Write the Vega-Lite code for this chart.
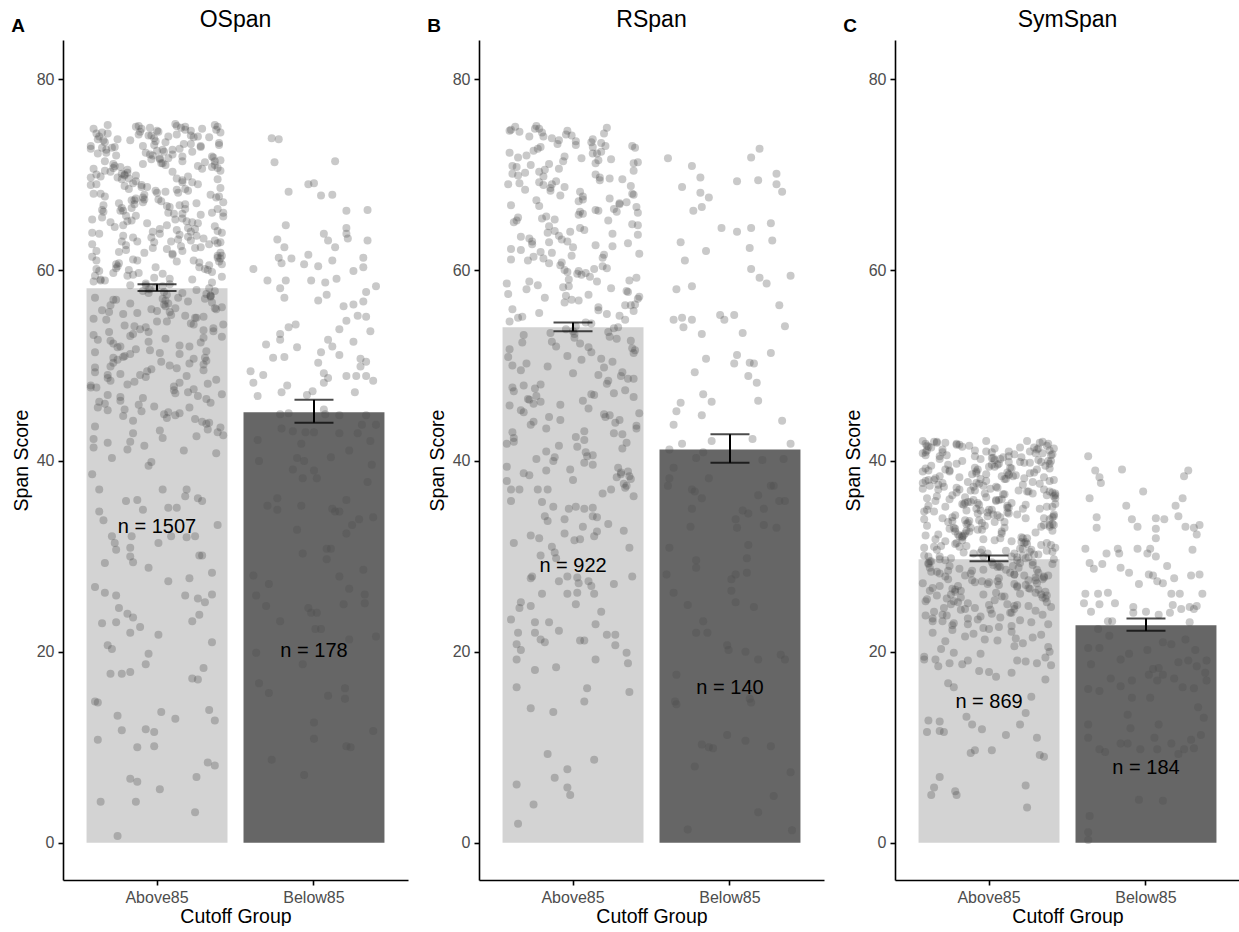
{
"$schema":"https://vega.github.io/schema/vega-lite/v6.json",
"background":"white",
"padding":{"left":11,"top":9,"right":0,"bottom":0},
"spacing":19,
"config":{
"font":"Liberation Sans",
"view":{"stroke":null},
"axis":{"grid":false,"domainColor":"#000000","domainWidth":1.6,"tickColor":"#000000","tickWidth":1.6,"tickSize":5,"labelColor":"#4d4d4d","labelFontSize":16,"labelPadding":4,"titleFontSize":19.5,"titleFontWeight":"normal","titleColor":"#000000"},
"axisX":{"labelAngle":0,"titlePadding":2,"labelFontSize":16,"titleFontSize":19.5},
"axisY":{"titlePadding":5,"labelFontSize":16,"titleFontSize":19.5},
"title":{"fontWeight":"normal","color":"#000000"}
},
"datasets":{
"bars":[
{"p":"OSpan","g":"Above85","mean":58.1,"lo":57.8,"hi":58.5,"label":"n = 1507"},
{"p":"OSpan","g":"Below85","mean":45.1,"lo":44.0,"hi":46.4,"label":"n = 178"},
{"p":"RSpan","g":"Above85","mean":54.0,"lo":53.6,"hi":54.5,"label":"n = 922"},
{"p":"RSpan","g":"Below85","mean":41.2,"lo":39.8,"hi":42.8,"label":"n = 140"},
{"p":"SymSpan","g":"Above85","mean":29.7,"lo":29.5,"hi":30.1,"label":"n = 869"},
{"p":"SymSpan","g":"Below85","mean":22.8,"lo":22.2,"hi":23.5,"label":"n = 184"}
],
"o_pts":[
{"g":"Above85","j":5,"y":74.8},{"g":"Above85","j":47,"y":62.3},{"g":"Above85","j":83,"y":55.1},{"g":"Above85","j":22,"y":69.7},{"g":"Above85","j":66,"y":48.2},{"g":"Above85","j":91,"y":71.4},{"g":"Above85","j":13,"y":58.9},{"g":"Above85","j":58,"y":66.0},{"g":"Above85","j":35,"y":51.7},{"g":"Above85","j":74,"y":73.2},
{"g":"Above85","j":8,"y":45.6},{"g":"Above85","j":52,"y":63.8},{"g":"Above85","j":29,"y":70.5},{"g":"Above85","j":88,"y":57.2},{"g":"Above85","j":41,"y":67.4},{"g":"Above85","j":17,"y":49.9},{"g":"Above85","j":70,"y":75.0},{"g":"Above85","j":96,"y":60.6},{"g":"Above85","j":33,"y":53.3},{"g":"Above85","j":61,"y":72.1},
{"g":"Above85","j":26,"y":64.7},{"g":"Above85","j":79,"y":46.8},{"g":"Above85","j":3,"y":68.9},{"g":"Above85","j":55,"y":56.4},{"g":"Above85","j":44,"y":74.1},{"g":"Above85","j":93,"y":61.5},{"g":"Above85","j":19,"y":50.8},{"g":"Above85","j":68,"y":69.2},{"g":"Above85","j":37,"y":59.7},{"g":"Above85","j":85,"y":43.9},
{"g":"Above85","j":11,"y":72.8},{"g":"Above85","j":63,"y":65.3},{"g":"Above85","j":50,"y":54.6},{"g":"Above85","j":27,"y":70.0},{"g":"Above85","j":76,"y":47.5},{"g":"Above85","j":95,"y":62.9},{"g":"Above85","j":15,"y":75.2},{"g":"Above85","j":40,"y":57.8},{"g":"Above85","j":59,"y":66.6},{"g":"Above85","j":81,"y":52.4},
{"g":"Above85","j":31,"y":73.6},{"g":"Above85","j":7,"y":60.1},{"g":"Above85","j":72,"y":68.3},{"g":"Above85","j":46,"y":55.9},{"g":"Above85","j":89,"y":71.9},{"g":"Above85","j":24,"y":49.1},{"g":"Above85","j":64,"y":64.2},{"g":"Above85","j":54,"y":58.3},{"g":"Above85","j":38,"y":74.5},{"g":"Above85","j":97,"y":42.7},
{"g":"Above85","j":97,"y":67.1},{"g":"Above85","j":38,"y":53.8},{"g":"Above85","j":54,"y":72.6},{"g":"Above85","j":64,"y":60.9},{"g":"Above85","j":24,"y":46.3},{"g":"Above85","j":89,"y":70.8},{"g":"Above85","j":46,"y":63.4},{"g":"Above85","j":72,"y":56.7},{"g":"Above85","j":7,"y":74.3},{"g":"Above85","j":31,"y":51.2},
{"g":"Above85","j":81,"y":65.8},{"g":"Above85","j":59,"y":59.1},{"g":"Above85","j":40,"y":71.1},{"g":"Above85","j":15,"y":48.7},{"g":"Above85","j":95,"y":61.8},{"g":"Above85","j":76,"y":73.9},{"g":"Above85","j":27,"y":54.2},{"g":"Above85","j":50,"y":68.1},{"g":"Above85","j":63,"y":44.8},{"g":"Above85","j":11,"y":66.3},
{"g":"Above85","j":85,"y":57.5},{"g":"Above85","j":37,"y":75.1},{"g":"Above85","j":68,"y":62.0},{"g":"Above85","j":19,"y":50.3},{"g":"Above85","j":93,"y":69.5},{"g":"Above85","j":44,"y":58.0},{"g":"Above85","j":55,"y":72.4},{"g":"Above85","j":3,"y":47.9},{"g":"Above85","j":79,"y":64.9},{"g":"Above85","j":26,"y":55.4},
{"g":"Above85","j":61,"y":70.3},{"g":"Above85","j":33,"y":61.1},{"g":"Above85","j":96,"y":53.0},{"g":"Above85","j":70,"y":74.7},{"g":"Above85","j":17,"y":65.0},{"g":"Above85","j":41,"y":41.6},{"g":"Above85","j":88,"y":67.9},{"g":"Above85","j":29,"y":59.4},{"g":"Above85","j":52,"y":71.6},{"g":"Above85","j":8,"y":52.7},
{"g":"Above85","j":74,"y":63.1},{"g":"Above85","j":35,"y":69.9},{"g":"Above85","j":58,"y":45.1},{"g":"Above85","j":13,"y":73.4},{"g":"Above85","j":91,"y":56.0},{"g":"Above85","j":66,"y":66.8},{"g":"Above85","j":22,"y":60.4},{"g":"Above85","j":83,"y":49.5},{"g":"Above85","j":47,"y":72.0},{"g":"Above85","j":5,"y":54.9},
{"g":"Above85","j":42,"y":58.6},{"g":"Above85","j":84,"y":71.3},{"g":"Above85","j":20,"y":64.5},{"g":"Above85","j":59,"y":50.0},{"g":"Above85","j":3,"y":73.0},{"g":"Above85","j":28,"y":62.6},{"g":"Above85","j":50,"y":55.7},{"g":"Above85","j":95,"y":68.6},{"g":"Above85","j":72,"y":47.2},{"g":"Above85","j":11,"y":65.5},
{"g":"Above85","j":45,"y":74.9},{"g":"Above85","j":89,"y":59.8},{"g":"Above85","j":66,"y":52.1},{"g":"Above85","j":25,"y":70.1},{"g":"Above85","j":78,"y":63.6},{"g":"Above85","j":54,"y":57.0},{"g":"Above85","j":7,"y":69.0},{"g":"Above85","j":33,"y":44.2},{"g":"Above85","j":70,"y":66.9},{"g":"Above85","j":93,"y":61.3},
{"g":"Above85","j":63,"y":75.3},{"g":"Above85","j":16,"y":53.5},{"g":"Above85","j":40,"y":67.6},{"g":"Above85","j":92,"y":48.5},{"g":"Above85","j":81,"y":72.9},{"g":"Above85","j":30,"y":60.0},{"g":"Above85","j":56,"y":56.2},{"g":"Above85","j":5,"y":70.6},{"g":"Above85","j":74,"y":64.0},{"g":"Above85","j":22,"y":51.9},
{"g":"Above85","j":48,"y":73.8},{"g":"Above85","j":57,"y":62.2},{"g":"Above85","j":87,"y":58.1},{"g":"Above85","j":64,"y":68.4},{"g":"Above85","j":13,"y":46.0},{"g":"Above85","j":32,"y":65.2},{"g":"Above85","j":52,"y":71.7},{"g":"Above85","j":77,"y":55.0},{"g":"Above85","j":96,"y":63.9},{"g":"Above85","j":18,"y":40.3},
{"g":"Above85","j":68,"y":69.4},{"g":"Above85","j":44,"y":57.6},{"g":"Above85","j":9,"y":74.0},{"g":"Above85","j":83,"y":52.9},{"g":"Above85","j":26,"y":66.2},{"g":"Above85","j":61,"y":61.7},{"g":"Above85","j":6,"y":49.3},{"g":"Above85","j":91,"y":71.0},{"g":"Above85","j":75,"y":59.0},{"g":"Above85","j":34,"y":67.3},
{"g":"Above85","j":66,"y":45.0},{"g":"Above85","j":8,"y":72.2},{"g":"Above85","j":44,"y":39.5},{"g":"Above85","j":83,"y":63.3},{"g":"Above85","j":27,"y":68.8},{"g":"Above85","j":52,"y":43.2},{"g":"Above85","j":74,"y":74.6},{"g":"Above85","j":19,"y":56.9},{"g":"Above85","j":96,"y":47.0},{"g":"Above85","j":35,"y":65.7},
{"g":"Above85","j":69,"y":41.1},{"g":"Above85","j":13,"y":70.4},{"g":"Above85","j":90,"y":53.6},{"g":"Above85","j":49,"y":60.3},{"g":"Above85","j":4,"y":38.6},{"g":"Above85","j":78,"y":67.0},{"g":"Above85","j":31,"y":58.4},{"g":"Above85","j":57,"y":44.5},{"g":"Above85","j":94,"y":73.3},{"g":"Above85","j":22,"y":50.6},
{"g":"Above85","j":87,"y":62.7},{"g":"Above85","j":40,"y":46.6},{"g":"Above85","j":64,"y":69.6},{"g":"Above85","j":16,"y":55.6},{"g":"Above85","j":5,"y":42.3},{"g":"Above85","j":54,"y":71.2},{"g":"Above85","j":80,"y":60.8},{"g":"Above85","j":29,"y":48.0},{"g":"Above85","j":93,"y":66.4},{"g":"Above85","j":46,"y":39.9},
{"g":"Above85","j":72,"y":64.4},{"g":"Above85","j":24,"y":52.0},{"g":"Above85","j":11,"y":74.4},{"g":"Above85","j":88,"y":57.3},{"g":"Above85","j":37,"y":45.9},{"g":"Above85","j":56,"y":68.2},{"g":"Above85","j":76,"y":61.0},{"g":"Above85","j":6,"y":43.6},{"g":"Above85","j":20,"y":70.9},{"g":"Above85","j":42,"y":54.0},
{"g":"Above85","j":92,"y":40.8},{"g":"Above85","j":68,"y":65.9},{"g":"Above85","j":33,"y":59.5},{"g":"Above85","j":7,"y":47.7},{"g":"Above85","j":50,"y":72.5},{"g":"Above85","j":85,"y":51.5},{"g":"Above85","j":25,"y":63.0},{"g":"Above85","j":15,"y":41.9},{"g":"Above85","j":94,"y":67.7},{"g":"Above85","j":58,"y":56.5},
{"g":"Above85","j":7,"y":61.0},{"g":"Above85","j":49,"y":73.5},{"g":"Above85","j":85,"y":50.5},{"g":"Above85","j":24,"y":66.2},{"g":"Above85","j":68,"y":57.6},{"g":"Above85","j":93,"y":70.7},{"g":"Above85","j":15,"y":45.3},{"g":"Above85","j":60,"y":63.0},{"g":"Above85","j":37,"y":74.2},{"g":"Above85","j":76,"y":54.3},
{"g":"Above85","j":10,"y":68.0},{"g":"Above85","j":54,"y":59.6},{"g":"Above85","j":31,"y":42.0},{"g":"Above85","j":90,"y":71.8},{"g":"Above85","j":43,"y":64.9},{"g":"Above85","j":19,"y":52.3},{"g":"Above85","j":72,"y":69.8},{"g":"Above85","j":96,"y":56.1},{"g":"Above85","j":35,"y":75.0},{"g":"Above85","j":63,"y":47.1},
{"g":"Above85","j":28,"y":62.1},{"g":"Above85","j":81,"y":73.0},{"g":"Above85","j":5,"y":58.8},{"g":"Above85","j":57,"y":66.7},{"g":"Above85","j":46,"y":49.6},{"g":"Above85","j":95,"y":71.5},{"g":"Above85","j":21,"y":60.2},{"g":"Above85","j":70,"y":55.2},{"g":"Above85","j":39,"y":74.8},{"g":"Above85","j":87,"y":44.0},
{"g":"Above85","j":13,"y":67.7},{"g":"Above85","j":65,"y":63.2},{"g":"Above85","j":52,"y":51.3},{"g":"Above85","j":29,"y":70.2},{"g":"Above85","j":78,"y":57.9},{"g":"Above85","j":97,"y":65.6},{"g":"Above85","j":17,"y":48.4},{"g":"Above85","j":42,"y":72.3},{"g":"Above85","j":61,"y":61.6},{"g":"Above85","j":83,"y":53.7},
{"g":"Above85","j":33,"y":69.1},{"g":"Above85","j":9,"y":46.2},{"g":"Above85","j":74,"y":74.1},{"g":"Above85","j":48,"y":59.2},{"g":"Above85","j":91,"y":64.6},{"g":"Above85","j":26,"y":50.9},{"g":"Above85","j":66,"y":72.7},{"g":"Above85","j":56,"y":56.8},{"g":"Above85","j":40,"y":67.1},{"g":"Above85","j":95,"y":43.5},
{"g":"Above85","j":95,"y":70.4},{"g":"Above85","j":36,"y":55.5},{"g":"Above85","j":52,"y":64.3},{"g":"Above85","j":62,"y":47.8},{"g":"Above85","j":22,"y":73.7},{"g":"Above85","j":87,"y":60.5},{"g":"Above85","j":44,"y":52.5},{"g":"Above85","j":70,"y":68.5},{"g":"Above85","j":5,"y":41.4},{"g":"Above85","j":29,"y":65.1},
{"g":"Above85","j":79,"y":74.0},{"g":"Above85","j":57,"y":57.4},{"g":"Above85","j":38,"y":49.0},{"g":"Above85","j":13,"y":71.4},{"g":"Above85","j":93,"y":62.8},{"g":"Above85","j":74,"y":54.4},{"g":"Above85","j":25,"y":66.5},{"g":"Above85","j":48,"y":45.7},{"g":"Above85","j":61,"y":72.6},{"g":"Above85","j":9,"y":59.9},
{"g":"Above85","j":83,"y":50.1},{"g":"Above85","j":35,"y":69.3},{"g":"Above85","j":66,"y":63.7},{"g":"Above85","j":17,"y":56.3},{"g":"Above85","j":91,"y":75.2},{"g":"Above85","j":42,"y":48.8},{"g":"Above85","j":53,"y":67.2},{"g":"Above85","j":4,"y":61.4},{"g":"Above85","j":77,"y":44.4},{"g":"Above85","j":24,"y":70.8},
{"g":"Above85","j":59,"y":58.5},{"g":"Above85","j":31,"y":53.1},{"g":"Above85","j":94,"y":73.1},{"g":"Above85","j":68,"y":65.4},{"g":"Above85","j":15,"y":46.9},{"g":"Above85","j":39,"y":68.7},{"g":"Above85","j":86,"y":60.0},{"g":"Above85","j":27,"y":51.0},{"g":"Above85","j":50,"y":74.6},{"g":"Above85","j":6,"y":57.1},
{"g":"Above85","j":72,"y":63.5},{"g":"Above85","j":33,"y":42.9},{"g":"Above85","j":56,"y":71.0},{"g":"Above85","j":11,"y":55.8},{"g":"Above85","j":89,"y":66.0},{"g":"Above85","j":64,"y":49.7},{"g":"Above85","j":20,"y":72.9},{"g":"Above85","j":81,"y":62.4},{"g":"Above85","j":45,"y":58.0},{"g":"Above85","j":3,"y":69.7},
{"g":"Above85","j":43,"y":68.7},{"g":"Above85","j":85,"y":46.5},{"g":"Above85","j":21,"y":72.0},{"g":"Above85","j":60,"y":55.3},{"g":"Above85","j":4,"y":63.9},{"g":"Above85","j":29,"y":41.2},{"g":"Above85","j":51,"y":74.5},{"g":"Above85","j":96,"y":59.3},{"g":"Above85","j":73,"y":50.2},{"g":"Above85","j":12,"y":66.8},
{"g":"Above85","j":46,"y":71.6},{"g":"Above85","j":90,"y":53.9},{"g":"Above85","j":67,"y":62.5},{"g":"Above85","j":26,"y":44.7},{"g":"Above85","j":79,"y":69.0},{"g":"Above85","j":55,"y":57.7},{"g":"Above85","j":8,"y":73.7},{"g":"Above85","j":34,"y":48.3},{"g":"Above85","j":71,"y":65.1},{"g":"Above85","j":94,"y":60.9},
{"g":"Above85","j":64,"y":75.1},{"g":"Above85","j":17,"y":52.6},{"g":"Above85","j":41,"y":67.9},{"g":"Above85","j":93,"y":43.0},{"g":"Above85","j":82,"y":70.6},{"g":"Above85","j":31,"y":56.5},{"g":"Above85","j":57,"y":64.7},{"g":"Above85","j":6,"y":49.8},{"g":"Above85","j":75,"y":72.4},{"g":"Above85","j":23,"y":61.9},
{"g":"Above85","j":49,"y":58.2},{"g":"Above85","j":58,"y":74.0},{"g":"Above85","j":88,"y":46.1},{"g":"Above85","j":65,"y":68.1},{"g":"Above85","j":14,"y":54.8},{"g":"Above85","j":33,"y":63.4},{"g":"Above85","j":53,"y":71.2},{"g":"Above85","j":78,"y":42.6},{"g":"Above85","j":97,"y":66.0},{"g":"Above85","j":19,"y":59.7},
{"g":"Above85","j":69,"y":73.2},{"g":"Above85","j":45,"y":51.6},{"g":"Above85","j":10,"y":69.8},{"g":"Above85","j":84,"y":57.0},{"g":"Above85","j":27,"y":45.4},{"g":"Above85","j":62,"y":65.9},{"g":"Above85","j":7,"y":62.0},{"g":"Above85","j":92,"y":74.7},{"g":"Above85","j":76,"y":50.7},{"g":"Above85","j":35,"y":67.5},
{"g":"Above85","j":65,"y":57.1},{"g":"Above85","j":7,"y":70.0},{"g":"Above85","j":43,"y":49.4},{"g":"Above85","j":82,"y":74.8},{"g":"Above85","j":26,"y":63.6},{"g":"Above85","j":51,"y":67.4},{"g":"Above85","j":73,"y":45.6},{"g":"Above85","j":18,"y":72.8},{"g":"Above85","j":95,"y":61.2},{"g":"Above85","j":34,"y":54.1},
{"g":"Above85","j":68,"y":71.9},{"g":"Above85","j":12,"y":66.1},{"g":"Above85","j":89,"y":58.7},{"g":"Above85","j":48,"y":73.1},{"g":"Above85","j":3,"y":47.7},{"g":"Above85","j":77,"y":64.3},{"g":"Above85","j":30,"y":69.6},{"g":"Above85","j":56,"y":52.8},{"g":"Above85","j":93,"y":75.0},{"g":"Above85","j":21,"y":60.6},
{"g":"Above85","j":86,"y":43.3},{"g":"Above85","j":39,"y":68.9},{"g":"Above85","j":63,"y":56.0},{"g":"Above85","j":15,"y":74.3},{"g":"Above85","j":4,"y":62.7},{"g":"Above85","j":53,"y":50.4},{"g":"Above85","j":79,"y":70.9},{"g":"Above85","j":28,"y":65.7},{"g":"Above85","j":92,"y":55.9},{"g":"Above85","j":45,"y":72.1},
{"g":"Above85","j":71,"y":48.9},{"g":"Above85","j":23,"y":67.0},{"g":"Above85","j":10,"y":59.0},{"g":"Above85","j":87,"y":73.9},{"g":"Above85","j":36,"y":63.0},{"g":"Above85","j":55,"y":44.9},{"g":"Above85","j":75,"y":69.2},{"g":"Above85","j":5,"y":53.2},{"g":"Above85","j":19,"y":71.1},{"g":"Above85","j":41,"y":61.8},
{"g":"Above85","j":91,"y":57.8},{"g":"Above85","j":67,"y":74.9},{"g":"Above85","j":32,"y":66.5},{"g":"Above85","j":6,"y":51.4},{"g":"Above85","j":49,"y":68.3},{"g":"Above85","j":84,"y":60.1},{"g":"Above85","j":24,"y":46.7},{"g":"Above85","j":14,"y":72.6},{"g":"Above85","j":93,"y":64.1},{"g":"Above85","j":57,"y":54.6},
{"g":"Above85","j":56,"y":73.4},{"g":"Above85","j":96,"y":61.5},{"g":"Above85","j":34,"y":66.9},{"g":"Above85","j":73,"y":52.0},{"g":"Above85","j":17,"y":70.3},{"g":"Above85","j":42,"y":58.4},{"g":"Above85","j":64,"y":74.2},{"g":"Above85","j":9,"y":63.8},{"g":"Above85","j":86,"y":48.1},{"g":"Above85","j":25,"y":69.5},
{"g":"Above85","j":59,"y":55.6},{"g":"Above85","j":3,"y":72.7},{"g":"Above85","j":80,"y":60.3},{"g":"Above85","j":39,"y":45.2},{"g":"Above85","j":92,"y":67.6},{"g":"Above85","j":68,"y":71.4},{"g":"Above85","j":21,"y":56.9},{"g":"Above85","j":47,"y":64.0},{"g":"Above85","j":84,"y":50.8},{"g":"Above85","j":12,"y":73.6},
{"g":"Above85","j":77,"y":62.3},{"g":"Above85","j":30,"y":68.5},{"g":"Above85","j":54,"y":42.4},{"g":"Above85","j":6,"y":59.4},{"g":"Above85","j":95,"y":74.4},{"g":"Above85","j":44,"y":53.5},{"g":"Above85","j":70,"y":66.4},{"g":"Above85","j":19,"y":70.7},{"g":"Above85","j":88,"y":57.3},{"g":"Above85","j":36,"y":61.0},
{"g":"Above85","j":62,"y":47.4},{"g":"Above85","j":14,"y":72.3},{"g":"Above85","j":4,"y":65.3},{"g":"Above85","j":78,"y":55.0},{"g":"Above85","j":27,"y":69.9},{"g":"Above85","j":46,"y":74.1},{"g":"Above85","j":66,"y":51.2},{"g":"Above85","j":91,"y":63.1},{"g":"Above85","j":10,"y":58.9},{"g":"Above85","j":32,"y":67.3},
{"g":"Above85","j":82,"y":44.1},{"g":"Above85","j":58,"y":71.7},{"g":"Above85","j":23,"y":60.7},{"g":"Above85","j":97,"y":54.3},{"g":"Above85","j":40,"y":73.0},{"g":"Above85","j":75,"y":65.0},{"g":"Above85","j":15,"y":49.0},{"g":"Above85","j":5,"y":68.0},{"g":"Above85","j":89,"y":56.6},{"g":"Above85","j":48,"y":62.9},
{"g":"Above85","j":6,"y":26.8},{"g":"Above85","j":13,"y":26.2},{"g":"Above85","j":21,"y":25.9},{"g":"Above85","j":23,"y":24.6},{"g":"Above85","j":29,"y":24.0},{"g":"Above85","j":33,"y":23.6},{"g":"Above85","j":11,"y":23.0},{"g":"Above85","j":21,"y":23.1},{"g":"Above85","j":38,"y":22.6},{"g":"Above85","j":31,"y":22.0},
{"g":"Above85","j":51,"y":21.8},{"g":"Above85","j":13,"y":29.3},{"g":"Above85","j":44,"y":28.8},{"g":"Above85","j":58,"y":27.4},{"g":"Above85","j":73,"y":27.7},{"g":"Above85","j":89,"y":28.3},{"g":"Above85","j":70,"y":25.9},{"g":"Above85","j":79,"y":25.6},{"g":"Above85","j":84,"y":25.2},{"g":"Above85","j":89,"y":26.0},
{"g":"Above85","j":80,"y":23.9},{"g":"Above85","j":75,"y":23.2},{"g":"Above85","j":89,"y":21.0},{"g":"Above85","j":15,"y":20.7},{"g":"Above85","j":18,"y":20.3},{"g":"Above85","j":44,"y":19.8},{"g":"Above85","j":42,"y":18.7},{"g":"Above85","j":17,"y":17.7},{"g":"Above85","j":25,"y":17.7},{"g":"Above85","j":31,"y":17.9},
{"g":"Above85","j":75,"y":17.2},{"g":"Above85","j":79,"y":17.1},{"g":"Above85","j":83,"y":18.3},{"g":"Above85","j":6,"y":14.8},{"g":"Above85","j":8,"y":14.7},{"g":"Above85","j":22,"y":13.3},{"g":"Above85","j":53,"y":13.7},{"g":"Above85","j":63,"y":13.0},{"g":"Above85","j":87,"y":13.9},{"g":"Above85","j":91,"y":12.8},
{"g":"Above85","j":25,"y":11.8},{"g":"Above85","j":42,"y":11.9},{"g":"Above85","j":48,"y":11.6},{"g":"Above85","j":8,"y":10.8},{"g":"Above85","j":36,"y":10.0},{"g":"Above85","j":48,"y":10.1},{"g":"Above85","j":86,"y":8.4},{"g":"Above85","j":91,"y":8.1},{"g":"Above85","j":78,"y":6.9},{"g":"Above85","j":31,"y":6.7},
{"g":"Above85","j":36,"y":6.4},{"g":"Above85","j":52,"y":5.6},{"g":"Above85","j":10,"y":4.3},{"g":"Above85","j":35,"y":4.3},{"g":"Above85","j":77,"y":3.2},{"g":"Above85","j":22,"y":0.7},
{"g":"Above85","j":9,"y":37.0},{"g":"Above85","j":9,"y":34.7},{"g":"Above85","j":12,"y":33.8},{"g":"Above85","j":18,"y":32.1},{"g":"Above85","j":20,"y":31.4},{"g":"Above85","j":21,"y":30.7},{"g":"Above85","j":31,"y":30.9},{"g":"Above85","j":31,"y":30.0},{"g":"Above85","j":33,"y":29.4},{"g":"Above85","j":32,"y":32.1},
{"g":"Above85","j":51,"y":31.4},{"g":"Above85","j":80,"y":30.1},{"g":"Above85","j":82,"y":30.1},{"g":"Above85","j":93,"y":33.3},{"g":"Above85","j":77,"y":32.1},{"g":"Above85","j":28,"y":35.8},{"g":"Above85","j":36,"y":35.9},{"g":"Above85","j":40,"y":34.9},{"g":"Above85","j":54,"y":37.0},{"g":"Above85","j":58,"y":35.1},
{"g":"Above85","j":64,"y":35.1},{"g":"Above85","j":71,"y":37.0},{"g":"Above85","j":70,"y":36.3},{"g":"Above85","j":79,"y":36.1},{"g":"Above85","j":82,"y":35.8},{"g":"Above85","j":71,"y":32.0},{"g":"Above85","j":60,"y":32.1},
{"g":"Below85","j":20,"y":73.8},{"g":"Below85","j":25,"y":73.7},{"g":"Below85","j":22,"y":71.3},{"g":"Below85","j":65,"y":71.4},{"g":"Below85","j":46,"y":69.0},{"g":"Below85","j":50,"y":69.1},{"g":"Below85","j":32,"y":68.2},{"g":"Below85","j":55,"y":67.8},{"g":"Below85","j":63,"y":67.9},{"g":"Below85","j":73,"y":66.2},
{"g":"Below85","j":88,"y":66.3},{"g":"Below85","j":30,"y":64.7},{"g":"Below85","j":73,"y":64.4},{"g":"Below85","j":73,"y":63.8},{"g":"Below85","j":57,"y":63.8},{"g":"Below85","j":24,"y":63.2},{"g":"Below85","j":60,"y":63.1},{"g":"Below85","j":74,"y":63.3},{"g":"Below85","j":88,"y":63.1},{"g":"Below85","j":29,"y":62.4},
{"g":"Below85","j":65,"y":62.4},{"g":"Below85","j":46,"y":61.6},{"g":"Below85","j":25,"y":61.3},{"g":"Below85","j":34,"y":61.2},{"g":"Below85","j":63,"y":61.0},{"g":"Below85","j":85,"y":61.3},{"g":"Below85","j":27,"y":60.7},{"g":"Below85","j":43,"y":60.6},{"g":"Below85","j":53,"y":60.4},{"g":"Below85","j":85,"y":60.3},
{"g":"Below85","j":7,"y":60.1},{"g":"Below85","j":78,"y":59.9},{"g":"Below85","j":17,"y":58.9},{"g":"Below85","j":30,"y":58.9},{"g":"Below85","j":48,"y":58.9},{"g":"Below85","j":58,"y":58.7},{"g":"Below85","j":66,"y":59.1},{"g":"Below85","j":26,"y":58.1},{"g":"Below85","j":94,"y":58.3},{"g":"Below85","j":29,"y":57.1},
{"g":"Below85","j":53,"y":56.8},{"g":"Below85","j":59,"y":57.4},{"g":"Below85","j":87,"y":57.7},{"g":"Below85","j":71,"y":56.2},{"g":"Below85","j":78,"y":56.4},{"g":"Below85","j":85,"y":56.7},{"g":"Below85","j":81,"y":55.2},{"g":"Below85","j":87,"y":55.1},{"g":"Below85","j":73,"y":54.7},{"g":"Below85","j":32,"y":54.0},
{"g":"Below85","j":37,"y":54.3},{"g":"Below85","j":68,"y":53.8},{"g":"Below85","j":90,"y":53.6},{"g":"Below85","j":26,"y":53.3},{"g":"Below85","j":26,"y":52.7},{"g":"Below85","j":60,"y":52.7},{"g":"Below85","j":78,"y":52.5},{"g":"Below85","j":16,"y":52.2},{"g":"Below85","j":38,"y":51.9},{"g":"Below85","j":63,"y":52.0},
{"g":"Below85","j":55,"y":51.4},{"g":"Below85","j":68,"y":51.1},{"g":"Below85","j":21,"y":50.8},{"g":"Below85","j":29,"y":50.9},{"g":"Below85","j":53,"y":50.3},{"g":"Below85","j":83,"y":50.7},{"g":"Below85","j":87,"y":50.4},{"g":"Below85","j":83,"y":49.9},{"g":"Below85","j":5,"y":49.4},{"g":"Below85","j":14,"y":49.0},
{"g":"Below85","j":57,"y":49.2},{"g":"Below85","j":60,"y":48.7},{"g":"Below85","j":73,"y":48.9},{"g":"Below85","j":80,"y":48.9},{"g":"Below85","j":87,"y":48.9},{"g":"Below85","j":92,"y":48.4},{"g":"Below85","j":7,"y":48.2},{"g":"Below85","j":31,"y":47.9},{"g":"Below85","j":57,"y":48.2},{"g":"Below85","j":27,"y":47.2},
{"g":"Below85","j":45,"y":46.9},{"g":"Below85","j":49,"y":47.3},{"g":"Below85","j":79,"y":47.2},{"g":"Below85","j":10,"y":46.8},{"g":"Below85","j":57,"y":45.4},{"g":"Below85","j":26,"y":44.9},{"g":"Below85","j":32,"y":45.0},{"g":"Below85","j":58,"y":44.9},{"g":"Below85","j":68,"y":44.8},{"g":"Below85","j":87,"y":44.8},
{"g":"Below85","j":27,"y":43.4},{"g":"Below85","j":35,"y":43.1},{"g":"Below85","j":44,"y":43.0},{"g":"Below85","j":50,"y":43.0},{"g":"Below85","j":68,"y":42.9},{"g":"Below85","j":81,"y":42.9},{"g":"Below85","j":94,"y":43.8},{"g":"Below85","j":84,"y":43.8},{"g":"Below85","j":10,"y":42.2},{"g":"Below85","j":41,"y":41.8},
{"g":"Below85","j":90,"y":42.1},{"g":"Below85","j":11,"y":40.0},{"g":"Below85","j":38,"y":40.3},{"g":"Below85","j":43,"y":40.0},{"g":"Below85","j":62,"y":40.4},{"g":"Below85","j":75,"y":41.1},{"g":"Below85","j":91,"y":39.6},{"g":"Below85","j":35,"y":39.1},{"g":"Below85","j":42,"y":38.2},{"g":"Below85","j":50,"y":39.0},
{"g":"Below85","j":52,"y":38.2},{"g":"Below85","j":88,"y":37.8},{"g":"Below85","j":17,"y":35.3},{"g":"Below85","j":24,"y":36.1},{"g":"Below85","j":24,"y":34.9},{"g":"Below85","j":41,"y":35.3},{"g":"Below85","j":63,"y":35.0},{"g":"Below85","j":65,"y":34.7},{"g":"Below85","j":68,"y":34.7},{"g":"Below85","j":73,"y":35.9},
{"g":"Below85","j":82,"y":33.9},{"g":"Below85","j":92,"y":34.1},{"g":"Below85","j":77,"y":33.3},{"g":"Below85","j":73,"y":32.4},{"g":"Below85","j":38,"y":32.8},{"g":"Below85","j":59,"y":30.8},{"g":"Below85","j":62,"y":30.8},{"g":"Below85","j":42,"y":30.3},{"g":"Below85","j":59,"y":29.7},{"g":"Below85","j":85,"y":28.6},
{"g":"Below85","j":7,"y":28.0},{"g":"Below85","j":18,"y":27.1},{"g":"Below85","j":68,"y":27.9},{"g":"Below85","j":75,"y":26.6},{"g":"Below85","j":9,"y":25.9},{"g":"Below85","j":86,"y":26.0},{"g":"Below85","j":86,"y":25.1},{"g":"Below85","j":16,"y":24.8},{"g":"Below85","j":46,"y":24.6},{"g":"Below85","j":48,"y":24.1},
{"g":"Below85","j":52,"y":24.1},{"g":"Below85","j":71,"y":25.0},{"g":"Below85","j":26,"y":23.2},{"g":"Below85","j":51,"y":22.4},{"g":"Below85","j":55,"y":22.4},{"g":"Below85","j":94,"y":21.6},{"g":"Below85","j":75,"y":21.3},{"g":"Below85","j":9,"y":19.9},{"g":"Below85","j":42,"y":18.7},{"g":"Below85","j":11,"y":16.7},
{"g":"Below85","j":18,"y":15.7},{"g":"Below85","j":60,"y":15.4},{"g":"Below85","j":72,"y":15.1},{"g":"Below85","j":72,"y":16.2},{"g":"Below85","j":50,"y":12.6},{"g":"Below85","j":92,"y":11.7},{"g":"Below85","j":50,"y":10.9},{"g":"Below85","j":73,"y":10.1},{"g":"Below85","j":76,"y":10.0},{"g":"Below85","j":20,"y":8.7},
{"g":"Below85","j":43,"y":7.1}
],
"r_pts":[
{"g":"Above85","j":5,"y":74.6},{"g":"Above85","j":47,"y":58.3},{"g":"Above85","j":83,"y":66.9},{"g":"Above85","j":22,"y":44.1},{"g":"Above85","j":66,"y":71.2},{"g":"Above85","j":91,"y":52.6},{"g":"Above85","j":13,"y":63.5},{"g":"Above85","j":58,"y":39.8},{"g":"Above85","j":35,"y":69.0},{"g":"Above85","j":74,"y":55.4},
{"g":"Above85","j":8,"y":47.3},{"g":"Above85","j":52,"y":73.1},{"g":"Above85","j":29,"y":61.2},{"g":"Above85","j":88,"y":41.9},{"g":"Above85","j":41,"y":67.8},{"g":"Above85","j":17,"y":50.2},{"g":"Above85","j":70,"y":72.4},{"g":"Above85","j":96,"y":57.0},{"g":"Above85","j":33,"y":64.6},{"g":"Above85","j":61,"y":45.5},
{"g":"Above85","j":26,"y":70.3},{"g":"Above85","j":79,"y":53.9},{"g":"Above85","j":3,"y":37.9},{"g":"Above85","j":55,"y":68.2},{"g":"Above85","j":44,"y":60.0},{"g":"Above85","j":93,"y":48.6},{"g":"Above85","j":19,"y":74.0},{"g":"Above85","j":68,"y":56.1},{"g":"Above85","j":37,"y":65.3},{"g":"Above85","j":85,"y":42.8},
{"g":"Above85","j":11,"y":71.8},{"g":"Above85","j":63,"y":51.4},{"g":"Above85","j":50,"y":62.4},{"g":"Above85","j":27,"y":46.2},{"g":"Above85","j":76,"y":69.6},{"g":"Above85","j":95,"y":59.2},{"g":"Above85","j":15,"y":38.7},{"g":"Above85","j":40,"y":73.6},{"g":"Above85","j":59,"y":54.5},{"g":"Above85","j":81,"y":66.1},
{"g":"Above85","j":31,"y":43.4},{"g":"Above85","j":7,"y":70.9},{"g":"Above85","j":72,"y":49.8},{"g":"Above85","j":46,"y":63.0},{"g":"Above85","j":89,"y":57.7},{"g":"Above85","j":24,"y":75.1},{"g":"Above85","j":64,"y":40.6},{"g":"Above85","j":54,"y":67.2},{"g":"Above85","j":38,"y":52.0},{"g":"Above85","j":97,"y":61.7},
{"g":"Above85","j":97,"y":45.0},{"g":"Above85","j":38,"y":69.3},{"g":"Above85","j":54,"y":56.8},{"g":"Above85","j":64,"y":72.9},{"g":"Above85","j":24,"y":40.2},{"g":"Above85","j":89,"y":62.8},{"g":"Above85","j":46,"y":51.0},{"g":"Above85","j":72,"y":74.3},{"g":"Above85","j":7,"y":47.7},{"g":"Above85","j":31,"y":65.6},
{"g":"Above85","j":81,"y":38.3},{"g":"Above85","j":59,"y":59.7},{"g":"Above85","j":40,"y":70.6},{"g":"Above85","j":15,"y":53.2},{"g":"Above85","j":95,"y":43.7},{"g":"Above85","j":76,"y":67.5},{"g":"Above85","j":27,"y":61.9},{"g":"Above85","j":50,"y":49.2},{"g":"Above85","j":63,"y":73.4},{"g":"Above85","j":11,"y":55.0},
{"g":"Above85","j":85,"y":41.3},{"g":"Above85","j":37,"y":64.1},{"g":"Above85","j":68,"y":71.5},{"g":"Above85","j":19,"y":58.8},{"g":"Above85","j":93,"y":46.7},{"g":"Above85","j":44,"y":68.7},{"g":"Above85","j":55,"y":52.3},{"g":"Above85","j":3,"y":39.4},{"g":"Above85","j":79,"y":66.4},{"g":"Above85","j":26,"y":74.8},
{"g":"Above85","j":61,"y":57.4},{"g":"Above85","j":33,"y":44.6},{"g":"Above85","j":96,"y":63.7},{"g":"Above85","j":70,"y":50.7},{"g":"Above85","j":17,"y":72.0},{"g":"Above85","j":41,"y":60.5},{"g":"Above85","j":88,"y":37.4},{"g":"Above85","j":29,"y":69.8},{"g":"Above85","j":52,"y":54.1},{"g":"Above85","j":8,"y":65.0},
{"g":"Above85","j":74,"y":48.1},{"g":"Above85","j":35,"y":73.8},{"g":"Above85","j":58,"y":42.2},{"g":"Above85","j":13,"y":62.1},{"g":"Above85","j":91,"y":56.3},{"g":"Above85","j":66,"y":70.0},{"g":"Above85","j":22,"y":46.0},{"g":"Above85","j":83,"y":67.0},{"g":"Above85","j":47,"y":59.0},{"g":"Above85","j":5,"y":51.7},
{"g":"Above85","j":42,"y":63.2},{"g":"Above85","j":84,"y":48.9},{"g":"Above85","j":20,"y":71.0},{"g":"Above85","j":59,"y":40.9},{"g":"Above85","j":3,"y":58.6},{"g":"Above85","j":28,"y":74.4},{"g":"Above85","j":50,"y":53.6},{"g":"Above85","j":95,"y":66.6},{"g":"Above85","j":72,"y":44.9},{"g":"Above85","j":11,"y":69.9},
{"g":"Above85","j":45,"y":57.3},{"g":"Above85","j":89,"y":38.9},{"g":"Above85","j":66,"y":62.6},{"g":"Above85","j":25,"y":72.7},{"g":"Above85","j":78,"y":50.4},{"g":"Above85","j":54,"y":65.8},{"g":"Above85","j":7,"y":43.0},{"g":"Above85","j":33,"y":60.7},{"g":"Above85","j":70,"y":73.3},{"g":"Above85","j":93,"y":55.7},
{"g":"Above85","j":63,"y":47.0},{"g":"Above85","j":16,"y":68.4},{"g":"Above85","j":40,"y":41.6},{"g":"Above85","j":92,"y":64.8},{"g":"Above85","j":81,"y":52.8},{"g":"Above85","j":30,"y":70.5},{"g":"Above85","j":56,"y":59.5},{"g":"Above85","j":5,"y":45.8},{"g":"Above85","j":74,"y":74.9},{"g":"Above85","j":22,"y":61.4},
{"g":"Above85","j":48,"y":39.1},{"g":"Above85","j":57,"y":67.4},{"g":"Above85","j":87,"y":54.8},{"g":"Above85","j":64,"y":72.2},{"g":"Above85","j":13,"y":49.5},{"g":"Above85","j":32,"y":63.9},{"g":"Above85","j":52,"y":42.5},{"g":"Above85","j":77,"y":58.1},{"g":"Above85","j":96,"y":71.3},{"g":"Above85","j":18,"y":46.5},
{"g":"Above85","j":68,"y":66.2},{"g":"Above85","j":44,"y":56.6},{"g":"Above85","j":9,"y":75.0},{"g":"Above85","j":83,"y":44.3},{"g":"Above85","j":26,"y":69.2},{"g":"Above85","j":61,"y":51.9},{"g":"Above85","j":6,"y":61.1},{"g":"Above85","j":91,"y":38.1},{"g":"Above85","j":75,"y":65.2},{"g":"Above85","j":34,"y":53.4},
{"g":"Above85","j":66,"y":66.3},{"g":"Above85","j":8,"y":42.4},{"g":"Above85","j":44,"y":71.9},{"g":"Above85","j":83,"y":55.2},{"g":"Above85","j":27,"y":48.0},{"g":"Above85","j":52,"y":73.5},{"g":"Above85","j":74,"y":60.2},{"g":"Above85","j":19,"y":38.5},{"g":"Above85","j":96,"y":64.7},{"g":"Above85","j":35,"y":52.5},
{"g":"Above85","j":69,"y":69.4},{"g":"Above85","j":13,"y":45.3},{"g":"Above85","j":90,"y":58.9},{"g":"Above85","j":49,"y":74.1},{"g":"Above85","j":4,"y":50.9},{"g":"Above85","j":78,"y":62.5},{"g":"Above85","j":31,"y":41.0},{"g":"Above85","j":57,"y":67.7},{"g":"Above85","j":94,"y":56.4},{"g":"Above85","j":22,"y":72.5},
{"g":"Above85","j":87,"y":47.4},{"g":"Above85","j":40,"y":63.6},{"g":"Above85","j":64,"y":39.6},{"g":"Above85","j":16,"y":70.2},{"g":"Above85","j":5,"y":54.6},{"g":"Above85","j":54,"y":59.9},{"g":"Above85","j":80,"y":44.0},{"g":"Above85","j":29,"y":68.9},{"g":"Above85","j":93,"y":51.3},{"g":"Above85","j":46,"y":74.6},
{"g":"Above85","j":72,"y":61.6},{"g":"Above85","j":24,"y":46.8},{"g":"Above85","j":11,"y":65.5},{"g":"Above85","j":88,"y":57.8},{"g":"Above85","j":37,"y":40.4},{"g":"Above85","j":56,"y":71.7},{"g":"Above85","j":76,"y":53.0},{"g":"Above85","j":6,"y":66.8},{"g":"Above85","j":20,"y":43.8},{"g":"Above85","j":42,"y":60.8},
{"g":"Above85","j":92,"y":73.0},{"g":"Above85","j":68,"y":49.0},{"g":"Above85","j":33,"y":62.9},{"g":"Above85","j":7,"y":55.9},{"g":"Above85","j":50,"y":38.0},{"g":"Above85","j":85,"y":69.5},{"g":"Above85","j":25,"y":58.4},{"g":"Above85","j":15,"y":47.9},{"g":"Above85","j":94,"y":72.8},{"g":"Above85","j":58,"y":64.2},
{"g":"Above85","j":43,"y":71.4},{"g":"Above85","j":85,"y":49.3},{"g":"Above85","j":21,"y":63.0},{"g":"Above85","j":60,"y":40.5},{"g":"Above85","j":4,"y":57.5},{"g":"Above85","j":29,"y":74.0},{"g":"Above85","j":51,"y":53.3},{"g":"Above85","j":96,"y":66.0},{"g":"Above85","j":73,"y":44.6},{"g":"Above85","j":12,"y":69.1},
{"g":"Above85","j":46,"y":59.8},{"g":"Above85","j":90,"y":38.4},{"g":"Above85","j":67,"y":72.2},{"g":"Above85","j":26,"y":55.5},{"g":"Above85","j":79,"y":47.1},{"g":"Above85","j":55,"y":64.4},{"g":"Above85","j":8,"y":42.0},{"g":"Above85","j":34,"y":68.6},{"g":"Above85","j":71,"y":61.3},{"g":"Above85","j":94,"y":51.6},
{"g":"Above85","j":64,"y":73.7},{"g":"Above85","j":17,"y":58.0},{"g":"Above85","j":41,"y":45.9},{"g":"Above85","j":93,"y":70.4},{"g":"Above85","j":82,"y":54.0},{"g":"Above85","j":31,"y":39.0},{"g":"Above85","j":57,"y":65.9},{"g":"Above85","j":6,"y":62.2},{"g":"Above85","j":75,"y":48.4},{"g":"Above85","j":23,"y":74.8},
{"g":"Above85","j":49,"y":56.9},{"g":"Above85","j":58,"y":43.1},{"g":"Above85","j":88,"y":67.1},{"g":"Above85","j":65,"y":60.1},{"g":"Above85","j":14,"y":52.4},{"g":"Above85","j":33,"y":71.1},{"g":"Above85","j":53,"y":41.5},{"g":"Above85","j":78,"y":63.8},{"g":"Above85","j":97,"y":57.2},{"g":"Above85","j":19,"y":46.4},
{"g":"Above85","j":69,"y":69.7},{"g":"Above85","j":45,"y":53.8},{"g":"Above85","j":10,"y":65.2},{"g":"Above85","j":84,"y":38.8},{"g":"Above85","j":27,"y":72.9},{"g":"Above85","j":62,"y":59.3},{"g":"Above85","j":7,"y":50.0},{"g":"Above85","j":92,"y":68.0},{"g":"Above85","j":76,"y":44.8},{"g":"Above85","j":35,"y":61.8},
{"g":"Above85","j":65,"y":46.9},{"g":"Above85","j":7,"y":70.1},{"g":"Above85","j":43,"y":58.2},{"g":"Above85","j":82,"y":39.3},{"g":"Above85","j":26,"y":66.7},{"g":"Above85","j":51,"y":52.9},{"g":"Above85","j":73,"y":73.0},{"g":"Above85","j":18,"y":61.0},{"g":"Above85","j":95,"y":43.4},{"g":"Above85","j":34,"y":68.3},
{"g":"Above85","j":68,"y":55.8},{"g":"Above85","j":12,"y":74.5},{"g":"Above85","j":89,"y":48.6},{"g":"Above85","j":48,"y":64.0},{"g":"Above85","j":3,"y":41.8},{"g":"Above85","j":77,"y":71.6},{"g":"Above85","j":30,"y":57.1},{"g":"Above85","j":56,"y":50.6},{"g":"Above85","j":93,"y":67.9},{"g":"Above85","j":21,"y":62.7},
{"g":"Above85","j":86,"y":37.6},{"g":"Above85","j":39,"y":73.2},{"g":"Above85","j":63,"y":54.4},{"g":"Above85","j":15,"y":45.1},{"g":"Above85","j":4,"y":69.0},{"g":"Above85","j":53,"y":59.6},{"g":"Above85","j":79,"y":42.9},{"g":"Above85","j":28,"y":65.4},{"g":"Above85","j":92,"y":51.8},{"g":"Above85","j":45,"y":74.2},
{"g":"Above85","j":71,"y":60.4},{"g":"Above85","j":23,"y":47.6},{"g":"Above85","j":10,"y":70.8},{"g":"Above85","j":87,"y":56.3},{"g":"Above85","j":36,"y":40.0},{"g":"Above85","j":55,"y":66.1},{"g":"Above85","j":75,"y":53.5},{"g":"Above85","j":5,"y":72.3},{"g":"Above85","j":19,"y":63.3},{"g":"Above85","j":41,"y":44.3},
{"g":"Above85","j":91,"y":68.8},{"g":"Above85","j":67,"y":58.8},{"g":"Above85","j":32,"y":49.9},{"g":"Above85","j":6,"y":74.7},{"g":"Above85","j":49,"y":61.5},{"g":"Above85","j":84,"y":38.6},{"g":"Above85","j":24,"y":67.3},{"g":"Above85","j":14,"y":55.1},{"g":"Above85","j":93,"y":71.2},{"g":"Above85","j":57,"y":46.3},
{"g":"Above85","j":6,"y":37.0},{"g":"Above85","j":12,"y":37.0},{"g":"Above85","j":25,"y":37.0},{"g":"Above85","j":32,"y":37.0},{"g":"Above85","j":6,"y":35.8},{"g":"Above85","j":28,"y":35.7},{"g":"Above85","j":36,"y":35.2},{"g":"Above85","j":47,"y":35.0},{"g":"Above85","j":52,"y":35.2},{"g":"Above85","j":58,"y":35.0},
{"g":"Above85","j":64,"y":35.1},{"g":"Above85","j":71,"y":36.6},{"g":"Above85","j":77,"y":37.0},{"g":"Above85","j":87,"y":37.2},{"g":"Above85","j":93,"y":36.3},{"g":"Above85","j":30,"y":34.2},{"g":"Above85","j":32,"y":33.7},{"g":"Above85","j":44,"y":33.9},{"g":"Above85","j":64,"y":34.2},{"g":"Above85","j":67,"y":34.1},
{"g":"Above85","j":57,"y":33.1},{"g":"Above85","j":75,"y":33.4},{"g":"Above85","j":86,"y":32.7},{"g":"Above85","j":20,"y":32.2},{"g":"Above85","j":26,"y":31.9},{"g":"Above85","j":44,"y":32.4},{"g":"Above85","j":51,"y":31.7},{"g":"Above85","j":55,"y":31.8},{"g":"Above85","j":65,"y":32.1},{"g":"Above85","j":67,"y":32.6},
{"g":"Above85","j":8,"y":31.4},{"g":"Above85","j":35,"y":31.0},{"g":"Above85","j":37,"y":30.4},{"g":"Above85","j":38,"y":29.8},{"g":"Above85","j":90,"y":30.9},{"g":"Above85","j":27,"y":30.1},{"g":"Above85","j":21,"y":27.9},{"g":"Above85","j":40,"y":27.4},{"g":"Above85","j":46,"y":27.9},{"g":"Above85","j":53,"y":27.8},
{"g":"Above85","j":54,"y":27.2},{"g":"Above85","j":61,"y":27.4},{"g":"Above85","j":63,"y":26.9},{"g":"Above85","j":79,"y":27.1},{"g":"Above85","j":92,"y":27.9},{"g":"Above85","j":28,"y":26.1},{"g":"Above85","j":46,"y":26.1},{"g":"Above85","j":53,"y":26.2},{"g":"Above85","j":65,"y":26.1},{"g":"Above85","j":13,"y":25.2},
{"g":"Above85","j":12,"y":24.6},{"g":"Above85","j":20,"y":24.8},{"g":"Above85","j":52,"y":25.0},{"g":"Above85","j":70,"y":24.2},{"g":"Above85","j":6,"y":23.4},{"g":"Above85","j":23,"y":23.1},{"g":"Above85","j":33,"y":23.1},{"g":"Above85","j":40,"y":22.2},{"g":"Above85","j":66,"y":22.9},{"g":"Above85","j":11,"y":22.0},
{"g":"Above85","j":23,"y":22.0},{"g":"Above85","j":27,"y":21.3},{"g":"Above85","j":30,"y":21.0},{"g":"Above85","j":10,"y":20.8},{"g":"Above85","j":13,"y":20.2},{"g":"Above85","j":10,"y":19.2},{"g":"Above85","j":55,"y":21.2},{"g":"Above85","j":58,"y":21.2},{"g":"Above85","j":74,"y":21.8},{"g":"Above85","j":80,"y":21.8},
{"g":"Above85","j":80,"y":20.7},{"g":"Above85","j":88,"y":19.9},{"g":"Above85","j":89,"y":18.8},{"g":"Above85","j":66,"y":19.2},{"g":"Above85","j":23,"y":18.1},{"g":"Above85","j":38,"y":18.4},{"g":"Above85","j":10,"y":16.3},{"g":"Above85","j":60,"y":16.2},{"g":"Above85","j":90,"y":15.8},{"g":"Above85","j":58,"y":14.8},
{"g":"Above85","j":20,"y":14.1},{"g":"Above85","j":36,"y":13.7},{"g":"Above85","j":32,"y":9.3},{"g":"Above85","j":65,"y":8.7},{"g":"Above85","j":46,"y":7.7},{"g":"Above85","j":37,"y":6.8},{"g":"Above85","j":10,"y":6.1},{"g":"Above85","j":46,"y":5.8},{"g":"Above85","j":48,"y":5.0},{"g":"Above85","j":22,"y":4.0},
{"g":"Above85","j":11,"y":2.0},{"g":"Above85","j":20,"y":27.7},
{"g":"Below85","j":6,"y":71.7},{"g":"Below85","j":23,"y":70.9},{"g":"Below85","j":29,"y":69.7},{"g":"Below85","j":16,"y":68.7},{"g":"Below85","j":29,"y":68.1},{"g":"Below85","j":35,"y":67.6},{"g":"Below85","j":30,"y":66.6},{"g":"Below85","j":24,"y":66.2},{"g":"Below85","j":65,"y":71.8},{"g":"Below85","j":71,"y":72.7},
{"g":"Below85","j":55,"y":69.3},{"g":"Below85","j":70,"y":69.4},{"g":"Below85","j":83,"y":70.1},{"g":"Below85","j":83,"y":69.0},{"g":"Below85","j":87,"y":68.2},{"g":"Below85","j":44,"y":64.4},{"g":"Below85","j":55,"y":64.0},{"g":"Below85","j":65,"y":64.4},{"g":"Below85","j":79,"y":64.9},{"g":"Below85","j":80,"y":63.1},
{"g":"Below85","j":15,"y":62.9},{"g":"Below85","j":33,"y":62.0},{"g":"Below85","j":64,"y":62.3},{"g":"Below85","j":18,"y":61.0},{"g":"Below85","j":65,"y":60.1},{"g":"Below85","j":71,"y":59.2},{"g":"Below85","j":76,"y":58.6},{"g":"Below85","j":93,"y":59.4},{"g":"Below85","j":12,"y":58.0},{"g":"Below85","j":23,"y":58.3},
{"g":"Below85","j":85,"y":56.3},{"g":"Below85","j":10,"y":54.8},{"g":"Below85","j":16,"y":55.0},{"g":"Below85","j":17,"y":54.0},{"g":"Below85","j":23,"y":54.8},{"g":"Below85","j":30,"y":53.3},{"g":"Below85","j":43,"y":55.3},{"g":"Below85","j":46,"y":54.8},{"g":"Below85","j":53,"y":55.3},{"g":"Below85","j":59,"y":53.4},
{"g":"Below85","j":89,"y":54.1},{"g":"Below85","j":33,"y":50.7},{"g":"Below85","j":53,"y":50.2},{"g":"Below85","j":55,"y":51.1},{"g":"Below85","j":64,"y":50.3},{"g":"Below85","j":67,"y":50.2},{"g":"Below85","j":79,"y":51.3},{"g":"Below85","j":25,"y":49.3},{"g":"Below85","j":63,"y":48.9},{"g":"Below85","j":69,"y":48.2},
{"g":"Below85","j":31,"y":47.0},{"g":"Below85","j":37,"y":46.2},{"g":"Below85","j":15,"y":46.1},{"g":"Below85","j":12,"y":45.2},{"g":"Below85","j":70,"y":46.3},{"g":"Below85","j":30,"y":44.8},{"g":"Below85","j":10,"y":43.8},{"g":"Below85","j":87,"y":44.2},{"g":"Below85","j":16,"y":41.8},{"g":"Below85","j":37,"y":42.1},
{"g":"Below85","j":66,"y":42.3},{"g":"Below85","j":93,"y":41.8},{"g":"Below85","j":7,"y":41.2},{"g":"Below85","j":10,"y":39.3},{"g":"Below85","j":26,"y":40.3},{"g":"Below85","j":31,"y":40.9},{"g":"Below85","j":73,"y":40.1},{"g":"Below85","j":88,"y":40.2},{"g":"Below85","j":35,"y":38.2},{"g":"Below85","j":79,"y":37.4},
{"g":"Below85","j":7,"y":38.2},{"g":"Below85","j":6,"y":37.4},{"g":"Below85","j":23,"y":37.0},{"g":"Below85","j":25,"y":36.8},{"g":"Below85","j":30,"y":36.1},{"g":"Below85","j":23,"y":35.0},{"g":"Below85","j":22,"y":33.1},{"g":"Below85","j":7,"y":30.9},{"g":"Below85","j":26,"y":29.6},{"g":"Below85","j":26,"y":28.8},
{"g":"Below85","j":5,"y":28.1},{"g":"Below85","j":10,"y":26.2},{"g":"Below85","j":20,"y":24.9},{"g":"Below85","j":31,"y":23.2},{"g":"Below85","j":26,"y":22.0},{"g":"Below85","j":34,"y":22.0},{"g":"Below85","j":54,"y":33.9},{"g":"Below85","j":59,"y":34.8},{"g":"Below85","j":63,"y":34.5},{"g":"Below85","j":55,"y":33.0},
{"g":"Below85","j":74,"y":35.0},{"g":"Below85","j":70,"y":36.4},{"g":"Below85","j":74,"y":33.3},{"g":"Below85","j":83,"y":33.0},{"g":"Below85","j":85,"y":35.8},{"g":"Below85","j":89,"y":35.8},{"g":"Below85","j":81,"y":37.4},{"g":"Below85","j":63,"y":31.2},{"g":"Below85","j":62,"y":29.8},{"g":"Below85","j":62,"y":28.3},
{"g":"Below85","j":54,"y":28.1},{"g":"Below85","j":51,"y":27.6},{"g":"Below85","j":51,"y":26.4},{"g":"Below85","j":54,"y":25.2},{"g":"Below85","j":67,"y":24.7},{"g":"Below85","j":48,"y":20.7},{"g":"Below85","j":49,"y":20.2},{"g":"Below85","j":61,"y":20.0},{"g":"Below85","j":70,"y":19.2},{"g":"Below85","j":86,"y":19.7},
{"g":"Below85","j":89,"y":19.2},{"g":"Below85","j":12,"y":17.6},{"g":"Below85","j":11,"y":14.8},{"g":"Below85","j":12,"y":14.5},{"g":"Below85","j":65,"y":14.7},{"g":"Below85","j":64,"y":15.1},{"g":"Below85","j":48,"y":11.3},{"g":"Below85","j":30,"y":10.3},{"g":"Below85","j":35,"y":10.0},{"g":"Below85","j":38,"y":9.9},
{"g":"Below85","j":61,"y":10.7},{"g":"Below85","j":79,"y":10.1},{"g":"Below85","j":25,"y":8.0},{"g":"Below85","j":93,"y":7.4},{"g":"Below85","j":81,"y":4.9},{"g":"Below85","j":70,"y":3.2},{"g":"Below85","j":20,"y":1.4},{"g":"Below85","j":94,"y":1.3}
],
"s_pts":[
{"g":"Above85","j":5,"y":41.8},{"g":"Above85","j":47,"y":33.2},{"g":"Above85","j":83,"y":27.5},{"g":"Above85","j":22,"y":38.9},{"g":"Above85","j":66,"y":24.1},{"g":"Above85","j":91,"y":36.4},{"g":"Above85","j":13,"y":30.7},{"g":"Above85","j":58,"y":40.2},{"g":"Above85","j":35,"y":22.9},{"g":"Above85","j":74,"y":35.0},
{"g":"Above85","j":8,"y":28.8},{"g":"Above85","j":52,"y":39.6},{"g":"Above85","j":29,"y":32.1},{"g":"Above85","j":88,"y":25.7},{"g":"Above85","j":41,"y":37.7},{"g":"Above85","j":17,"y":41.2},{"g":"Above85","j":70,"y":29.9},{"g":"Above85","j":96,"y":34.4},{"g":"Above85","j":33,"y":21.6},{"g":"Above85","j":61,"y":38.1},
{"g":"Above85","j":26,"y":31.3},{"g":"Above85","j":79,"y":26.6},{"g":"Above85","j":3,"y":40.8},{"g":"Above85","j":55,"y":35.8},{"g":"Above85","j":44,"y":23.7},{"g":"Above85","j":93,"y":33.9},{"g":"Above85","j":19,"y":39.1},{"g":"Above85","j":68,"y":28.1},{"g":"Above85","j":37,"y":36.9},{"g":"Above85","j":85,"y":30.2},
{"g":"Above85","j":11,"y":42.0},{"g":"Above85","j":63,"y":25.0},{"g":"Above85","j":50,"y":34.9},{"g":"Above85","j":27,"y":37.2},{"g":"Above85","j":76,"y":27.0},{"g":"Above85","j":95,"y":32.7},{"g":"Above85","j":15,"y":40.5},{"g":"Above85","j":40,"y":24.6},{"g":"Above85","j":59,"y":38.4},{"g":"Above85","j":81,"y":29.4},
{"g":"Above85","j":31,"y":35.5},{"g":"Above85","j":7,"y":41.5},{"g":"Above85","j":72,"y":26.1},{"g":"Above85","j":46,"y":31.8},{"g":"Above85","j":89,"y":37.0},{"g":"Above85","j":24,"y":22.3},{"g":"Above85","j":64,"y":39.9},{"g":"Above85","j":54,"y":33.6},{"g":"Above85","j":38,"y":28.5},{"g":"Above85","j":97,"y":36.1},
{"g":"Above85","j":97,"y":30.9},{"g":"Above85","j":38,"y":38.6},{"g":"Above85","j":54,"y":25.4},{"g":"Above85","j":64,"y":41.0},{"g":"Above85","j":24,"y":34.1},{"g":"Above85","j":89,"y":27.8},{"g":"Above85","j":46,"y":37.4},{"g":"Above85","j":72,"y":23.3},{"g":"Above85","j":7,"y":35.3},{"g":"Above85","j":31,"y":40.0},
{"g":"Above85","j":81,"y":29.1},{"g":"Above85","j":59,"y":32.4},{"g":"Above85","j":40,"y":39.3},{"g":"Above85","j":15,"y":26.9},{"g":"Above85","j":95,"y":36.7},{"g":"Above85","j":76,"y":31.5},{"g":"Above85","j":27,"y":41.7},{"g":"Above85","j":50,"y":24.9},{"g":"Above85","j":63,"y":34.6},{"g":"Above85","j":11,"y":38.0},
{"g":"Above85","j":85,"y":28.3},{"g":"Above85","j":37,"y":33.0},{"g":"Above85","j":68,"y":40.7},{"g":"Above85","j":19,"y":21.1},{"g":"Above85","j":93,"y":37.9},{"g":"Above85","j":44,"y":30.4},{"g":"Above85","j":55,"y":35.9},{"g":"Above85","j":3,"y":27.2},{"g":"Above85","j":79,"y":39.8},{"g":"Above85","j":26,"y":32.9},
{"g":"Above85","j":61,"y":25.8},{"g":"Above85","j":33,"y":36.2},{"g":"Above85","j":96,"y":41.3},{"g":"Above85","j":70,"y":29.6},{"g":"Above85","j":17,"y":34.0},{"g":"Above85","j":41,"y":38.7},{"g":"Above85","j":88,"y":23.9},{"g":"Above85","j":29,"y":31.0},{"g":"Above85","j":52,"y":40.3},{"g":"Above85","j":8,"y":26.4},
{"g":"Above85","j":74,"y":37.5},{"g":"Above85","j":35,"y":33.5},{"g":"Above85","j":58,"y":28.9},{"g":"Above85","j":13,"y":41.9},{"g":"Above85","j":91,"y":35.2},{"g":"Above85","j":66,"y":30.0},{"g":"Above85","j":22,"y":39.0},{"g":"Above85","j":83,"y":24.3},{"g":"Above85","j":47,"y":36.6},{"g":"Above85","j":5,"y":32.2},
{"g":"Above85","j":42,"y":35.6},{"g":"Above85","j":84,"y":28.6},{"g":"Above85","j":20,"y":40.6},{"g":"Above85","j":59,"y":32.6},{"g":"Above85","j":3,"y":37.1},{"g":"Above85","j":28,"y":25.2},{"g":"Above85","j":50,"y":39.4},{"g":"Above85","j":95,"y":30.5},{"g":"Above85","j":72,"y":41.4},{"g":"Above85","j":11,"y":34.7},
{"g":"Above85","j":45,"y":27.4},{"g":"Above85","j":89,"y":38.3},{"g":"Above85","j":66,"y":31.6},{"g":"Above85","j":25,"y":23.0},{"g":"Above85","j":78,"y":36.8},{"g":"Above85","j":54,"y":40.1},{"g":"Above85","j":7,"y":29.2},{"g":"Above85","j":33,"y":33.8},{"g":"Above85","j":70,"y":26.8},{"g":"Above85","j":93,"y":39.7},
{"g":"Above85","j":63,"y":35.1},{"g":"Above85","j":16,"y":31.1},{"g":"Above85","j":40,"y":41.1},{"g":"Above85","j":92,"y":28.0},{"g":"Above85","j":81,"y":37.8},{"g":"Above85","j":30,"y":24.4},{"g":"Above85","j":56,"y":34.3},{"g":"Above85","j":5,"y":39.2},{"g":"Above85","j":74,"y":30.1},{"g":"Above85","j":22,"y":36.0},
{"g":"Above85","j":48,"y":42.1},{"g":"Above85","j":57,"y":27.7},{"g":"Above85","j":87,"y":33.1},{"g":"Above85","j":64,"y":38.5},{"g":"Above85","j":13,"y":25.9},{"g":"Above85","j":32,"y":35.4},{"g":"Above85","j":52,"y":40.9},{"g":"Above85","j":77,"y":31.9},{"g":"Above85","j":96,"y":29.7},{"g":"Above85","j":18,"y":37.3},
{"g":"Above85","j":68,"y":20.6},{"g":"Above85","j":44,"y":34.8},{"g":"Above85","j":9,"y":39.5},{"g":"Above85","j":83,"y":32.5},{"g":"Above85","j":26,"y":26.3},{"g":"Above85","j":61,"y":36.5},{"g":"Above85","j":6,"y":41.6},{"g":"Above85","j":91,"y":30.6},{"g":"Above85","j":75,"y":38.2},{"g":"Above85","j":34,"y":33.4},
{"g":"Above85","j":66,"y":22.1},{"g":"Above85","j":8,"y":29.5},{"g":"Above85","j":44,"y":19.8},{"g":"Above85","j":83,"y":26.2},{"g":"Above85","j":27,"y":31.4},{"g":"Above85","j":52,"y":24.0},{"g":"Above85","j":74,"y":20.9},{"g":"Above85","j":19,"y":27.9},{"g":"Above85","j":96,"y":33.3},{"g":"Above85","j":35,"y":23.5},
{"g":"Above85","j":69,"y":21.4},{"g":"Above85","j":13,"y":28.4},{"g":"Above85","j":90,"y":25.6},{"g":"Above85","j":49,"y":30.3},{"g":"Above85","j":4,"y":19.5},{"g":"Above85","j":78,"y":26.7},{"g":"Above85","j":31,"y":32.0},{"g":"Above85","j":57,"y":22.6},{"g":"Above85","j":94,"y":24.7},{"g":"Above85","j":22,"y":29.0},
{"g":"Above85","j":87,"y":21.8},{"g":"Above85","j":40,"y":27.3},{"g":"Above85","j":64,"y":34.5},{"g":"Above85","j":16,"y":20.3},{"g":"Above85","j":5,"y":25.3},{"g":"Above85","j":54,"y":31.7},{"g":"Above85","j":80,"y":23.1},{"g":"Above85","j":29,"y":28.7},{"g":"Above85","j":93,"y":20.0},{"g":"Above85","j":46,"y":26.0},
{"g":"Above85","j":72,"y":30.8},{"g":"Above85","j":24,"y":22.8},{"g":"Above85","j":11,"y":24.2},{"g":"Above85","j":88,"y":27.6},{"g":"Above85","j":37,"y":35.7},{"g":"Above85","j":56,"y":21.2},{"g":"Above85","j":76,"y":29.8},{"g":"Above85","j":6,"y":25.5},{"g":"Above85","j":20,"y":23.8},{"g":"Above85","j":42,"y":32.8},
{"g":"Above85","j":92,"y":20.5},{"g":"Above85","j":68,"y":27.1},{"g":"Above85","j":33,"y":24.5},{"g":"Above85","j":7,"y":30.0},{"g":"Above85","j":50,"y":22.4},{"g":"Above85","j":85,"y":26.5},{"g":"Above85","j":25,"y":19.9},{"g":"Above85","j":15,"y":28.2},{"g":"Above85","j":94,"y":31.2},{"g":"Above85","j":58,"y":23.6},
{"g":"Above85","j":7,"y":38.0},{"g":"Above85","j":49,"y":27.1},{"g":"Above85","j":85,"y":41.3},{"g":"Above85","j":24,"y":33.7},{"g":"Above85","j":68,"y":24.8},{"g":"Above85","j":93,"y":36.8},{"g":"Above85","j":15,"y":30.0},{"g":"Above85","j":60,"y":40.4},{"g":"Above85","j":37,"y":28.2},{"g":"Above85","j":76,"y":35.4},
{"g":"Above85","j":10,"y":22.0},{"g":"Above85","j":54,"y":39.4},{"g":"Above85","j":31,"y":31.7},{"g":"Above85","j":90,"y":26.3},{"g":"Above85","j":43,"y":37.6},{"g":"Above85","j":19,"y":41.9},{"g":"Above85","j":72,"y":29.3},{"g":"Above85","j":96,"y":34.2},{"g":"Above85","j":35,"y":25.1},{"g":"Above85","j":63,"y":38.8},
{"g":"Above85","j":28,"y":32.3},{"g":"Above85","j":81,"y":21.5},{"g":"Above85","j":5,"y":40.6},{"g":"Above85","j":57,"y":35.9},{"g":"Above85","j":46,"y":28.6},{"g":"Above85","j":95,"y":33.4},{"g":"Above85","j":21,"y":39.6},{"g":"Above85","j":70,"y":26.9},{"g":"Above85","j":39,"y":37.3},{"g":"Above85","j":87,"y":31.2},
{"g":"Above85","j":13,"y":42.0},{"g":"Above85","j":65,"y":24.1},{"g":"Above85","j":52,"y":34.9},{"g":"Above85","j":29,"y":38.3},{"g":"Above85","j":78,"y":29.9},{"g":"Above85","j":97,"y":36.4},{"g":"Above85","j":17,"y":40.9},{"g":"Above85","j":42,"y":23.4},{"g":"Above85","j":61,"y":33.0},{"g":"Above85","j":83,"y":27.8},
{"g":"Above85","j":33,"y":35.6},{"g":"Above85","j":9,"y":41.4},{"g":"Above85","j":74,"y":30.8},{"g":"Above85","j":48,"y":37.9},{"g":"Above85","j":91,"y":25.9},{"g":"Above85","j":26,"y":32.6},{"g":"Above85","j":66,"y":39.2},{"g":"Above85","j":56,"y":28.9},{"g":"Above85","j":40,"y":36.9},{"g":"Above85","j":95,"y":34.1},
{"g":"Above85","j":95,"y":35.2},{"g":"Above85","j":36,"y":41.6},{"g":"Above85","j":52,"y":29.4},{"g":"Above85","j":62,"y":38.1},{"g":"Above85","j":22,"y":32.9},{"g":"Above85","j":87,"y":26.0},{"g":"Above85","j":44,"y":40.2},{"g":"Above85","j":70,"y":34.4},{"g":"Above85","j":5,"y":23.8},{"g":"Above85","j":29,"y":37.0},
{"g":"Above85","j":79,"y":30.5},{"g":"Above85","j":57,"y":39.7},{"g":"Above85","j":38,"y":27.5},{"g":"Above85","j":13,"y":36.3},{"g":"Above85","j":93,"y":41.1},{"g":"Above85","j":74,"y":31.9},{"g":"Above85","j":25,"y":25.3},{"g":"Above85","j":48,"y":38.6},{"g":"Above85","j":61,"y":33.6},{"g":"Above85","j":9,"y":28.4},
{"g":"Above85","j":83,"y":40.8},{"g":"Above85","j":35,"y":35.7},{"g":"Above85","j":66,"y":22.7},{"g":"Above85","j":17,"y":37.7},{"g":"Above85","j":91,"y":31.4},{"g":"Above85","j":42,"y":39.1},{"g":"Above85","j":53,"y":29.1},{"g":"Above85","j":4,"y":34.7},{"g":"Above85","j":77,"y":42.1},{"g":"Above85","j":24,"y":26.6},
{"g":"Above85","j":59,"y":36.0},{"g":"Above85","j":31,"y":32.1},{"g":"Above85","j":94,"y":40.0},{"g":"Above85","j":68,"y":24.5},{"g":"Above85","j":15,"y":38.4},{"g":"Above85","j":39,"y":30.3},{"g":"Above85","j":86,"y":35.0},{"g":"Above85","j":27,"y":41.8},{"g":"Above85","j":50,"y":27.3},{"g":"Above85","j":6,"y":33.2},
{"g":"Above85","j":72,"y":39.9},{"g":"Above85","j":33,"y":28.0},{"g":"Above85","j":56,"y":37.2},{"g":"Above85","j":11,"y":31.0},{"g":"Above85","j":89,"y":34.0},{"g":"Above85","j":64,"y":40.5},{"g":"Above85","j":20,"y":25.6},{"g":"Above85","j":81,"y":36.6},{"g":"Above85","j":45,"y":30.7},{"g":"Above85","j":3,"y":38.9},
{"g":"Above85","j":43,"y":33.8},{"g":"Above85","j":85,"y":40.1},{"g":"Above85","j":21,"y":27.6},{"g":"Above85","j":60,"y":36.5},{"g":"Above85","j":4,"y":30.9},{"g":"Above85","j":29,"y":41.7},{"g":"Above85","j":51,"y":24.4},{"g":"Above85","j":96,"y":38.0},{"g":"Above85","j":73,"y":31.5},{"g":"Above85","j":12,"y":35.8},
{"g":"Above85","j":46,"y":22.5},{"g":"Above85","j":90,"y":39.5},{"g":"Above85","j":67,"y":29.0},{"g":"Above85","j":26,"y":34.3},{"g":"Above85","j":79,"y":41.0},{"g":"Above85","j":55,"y":26.2},{"g":"Above85","j":8,"y":37.4},{"g":"Above85","j":34,"y":32.7},{"g":"Above85","j":71,"y":28.8},{"g":"Above85","j":94,"y":40.6},
{"g":"Above85","j":64,"y":35.1},{"g":"Above85","j":17,"y":23.2},{"g":"Above85","j":41,"y":38.9},{"g":"Above85","j":93,"y":33.1},{"g":"Above85","j":82,"y":30.2},{"g":"Above85","j":31,"y":41.5},{"g":"Above85","j":57,"y":27.0},{"g":"Above85","j":6,"y":36.1},{"g":"Above85","j":75,"y":39.8},{"g":"Above85","j":23,"y":25.0},
{"g":"Above85","j":49,"y":34.6},{"g":"Above85","j":58,"y":31.9},{"g":"Above85","j":88,"y":42.0},{"g":"Above85","j":65,"y":28.3},{"g":"Above85","j":14,"y":37.0},{"g":"Above85","j":33,"y":32.4},{"g":"Above85","j":53,"y":40.3},{"g":"Above85","j":78,"y":24.8},{"g":"Above85","j":97,"y":35.5},{"g":"Above85","j":19,"y":29.6},
{"g":"Above85","j":69,"y":38.5},{"g":"Above85","j":45,"y":33.5},{"g":"Above85","j":10,"y":26.7},{"g":"Above85","j":84,"y":41.2},{"g":"Above85","j":27,"y":36.7},{"g":"Above85","j":62,"y":30.6},{"g":"Above85","j":7,"y":39.0},{"g":"Above85","j":92,"y":22.9},{"g":"Above85","j":76,"y":34.0},{"g":"Above85","j":35,"y":37.8},
{"g":"Above85","j":65,"y":39.3},{"g":"Above85","j":7,"y":29.3},{"g":"Above85","j":43,"y":35.4},{"g":"Above85","j":82,"y":41.4},{"g":"Above85","j":26,"y":26.5},{"g":"Above85","j":51,"y":37.1},{"g":"Above85","j":73,"y":32.0},{"g":"Above85","j":18,"y":24.6},{"g":"Above85","j":95,"y":40.7},{"g":"Above85","j":34,"y":34.8},
{"g":"Above85","j":68,"y":30.3},{"g":"Above85","j":12,"y":38.2},{"g":"Above85","j":89,"y":27.9},{"g":"Above85","j":48,"y":36.2},{"g":"Above85","j":3,"y":42.1},{"g":"Above85","j":77,"y":31.3},{"g":"Above85","j":30,"y":25.7},{"g":"Above85","j":56,"y":39.6},{"g":"Above85","j":93,"y":33.3},{"g":"Above85","j":21,"y":28.5},
{"g":"Above85","j":86,"y":37.6},{"g":"Above85","j":39,"y":21.9},{"g":"Above85","j":63,"y":35.3},{"g":"Above85","j":15,"y":40.2},{"g":"Above85","j":4,"y":30.1},{"g":"Above85","j":53,"y":34.4},{"g":"Above85","j":79,"y":38.7},{"g":"Above85","j":28,"y":26.9},{"g":"Above85","j":92,"y":41.8},{"g":"Above85","j":45,"y":32.8},
{"g":"Above85","j":71,"y":36.9},{"g":"Above85","j":23,"y":29.8},{"g":"Above85","j":10,"y":23.5},{"g":"Above85","j":87,"y":39.9},{"g":"Above85","j":36,"y":33.7},{"g":"Above85","j":55,"y":37.3},{"g":"Above85","j":75,"y":28.0},{"g":"Above85","j":5,"y":40.9},{"g":"Above85","j":19,"y":31.6},{"g":"Above85","j":41,"y":35.0},
{"g":"Above85","j":91,"y":25.2},{"g":"Above85","j":67,"y":38.4},{"g":"Above85","j":32,"y":30.4},{"g":"Above85","j":6,"y":41.1},{"g":"Above85","j":49,"y":34.2},{"g":"Above85","j":84,"y":27.2},{"g":"Above85","j":24,"y":36.4},{"g":"Above85","j":14,"y":32.3},{"g":"Above85","j":93,"y":39.2},{"g":"Above85","j":57,"y":29.0},
{"g":"Above85","j":56,"y":27.4},{"g":"Above85","j":96,"y":36.3},{"g":"Above85","j":34,"y":31.1},{"g":"Above85","j":73,"y":40.4},{"g":"Above85","j":17,"y":23.9},{"g":"Above85","j":42,"y":34.5},{"g":"Above85","j":64,"y":38.6},{"g":"Above85","j":9,"y":29.5},{"g":"Above85","j":86,"y":41.9},{"g":"Above85","j":25,"y":33.0},
{"g":"Above85","j":59,"y":25.8},{"g":"Above85","j":3,"y":37.7},{"g":"Above85","j":80,"y":30.7},{"g":"Above85","j":39,"y":35.9},{"g":"Above85","j":92,"y":40.0},{"g":"Above85","j":68,"y":28.1},{"g":"Above85","j":21,"y":33.6},{"g":"Above85","j":47,"y":21.3},{"g":"Above85","j":84,"y":39.1},{"g":"Above85","j":12,"y":31.8},
{"g":"Above85","j":77,"y":36.8},{"g":"Above85","j":30,"y":26.4},{"g":"Above85","j":54,"y":41.3},{"g":"Above85","j":6,"y":34.9},{"g":"Above85","j":95,"y":29.2},{"g":"Above85","j":44,"y":38.1},{"g":"Above85","j":70,"y":24.9},{"g":"Above85","j":19,"y":35.2},{"g":"Above85","j":88,"y":40.8},{"g":"Above85","j":36,"y":32.6},
{"g":"Above85","j":62,"y":28.6},{"g":"Above85","j":14,"y":37.5},{"g":"Above85","j":4,"y":33.9},{"g":"Above85","j":78,"y":27.5},{"g":"Above85","j":27,"y":39.7},{"g":"Above85","j":46,"y":30.0},{"g":"Above85","j":66,"y":35.6},{"g":"Above85","j":91,"y":41.6},{"g":"Above85","j":10,"y":23.2},{"g":"Above85","j":32,"y":32.2},
{"g":"Above85","j":82,"y":38.8},{"g":"Above85","j":58,"y":34.1},{"g":"Above85","j":23,"y":26.0},{"g":"Above85","j":97,"y":36.6},{"g":"Above85","j":40,"y":40.5},{"g":"Above85","j":75,"y":31.4},{"g":"Above85","j":15,"y":29.7},{"g":"Above85","j":5,"y":37.9},{"g":"Above85","j":89,"y":33.3},{"g":"Above85","j":48,"y":41.0},
{"g":"Above85","j":21,"y":16.7},{"g":"Above85","j":25,"y":16.3},{"g":"Above85","j":7,"y":12.8},{"g":"Above85","j":15,"y":12.7},{"g":"Above85","j":6,"y":11.6},{"g":"Above85","j":15,"y":11.7},{"g":"Above85","j":18,"y":11.6},{"g":"Above85","j":34,"y":13.2},{"g":"Above85","j":38,"y":12.4},{"g":"Above85","j":45,"y":11.9},
{"g":"Above85","j":62,"y":11.3},{"g":"Above85","j":72,"y":12.4},{"g":"Above85","j":76,"y":13.6},{"g":"Above85","j":80,"y":15.3},{"g":"Above85","j":84,"y":11.0},{"g":"Above85","j":37,"y":9.4},{"g":"Above85","j":40,"y":9.7},{"g":"Above85","j":52,"y":9.7},{"g":"Above85","j":86,"y":9.2},{"g":"Above85","j":89,"y":9.0},
{"g":"Above85","j":15,"y":6.9},{"g":"Above85","j":11,"y":5.8},{"g":"Above85","j":9,"y":5.0},{"g":"Above85","j":26,"y":5.4},{"g":"Above85","j":27,"y":5.0},{"g":"Above85","j":76,"y":6.0},{"g":"Above85","j":77,"y":3.7},
{"g":"Above85","j":4,"y":19.2},{"g":"Above85","j":12,"y":19.2},{"g":"Above85","j":14,"y":18.5},{"g":"Above85","j":22,"y":18.8},{"g":"Above85","j":31,"y":18.7},{"g":"Above85","j":35,"y":19.1},{"g":"Above85","j":43,"y":18.0},{"g":"Above85","j":50,"y":17.9},{"g":"Above85","j":55,"y":17.4},{"g":"Above85","j":66,"y":17.8},
{"g":"Above85","j":70,"y":19.1},{"g":"Above85","j":76,"y":19.0},{"g":"Above85","j":84,"y":18.8},{"g":"Above85","j":90,"y":19.4},{"g":"Above85","j":94,"y":18.6},{"g":"Above85","j":90,"y":17.1},
{"g":"Below85","j":9,"y":40.5},{"g":"Below85","j":14,"y":39.0},{"g":"Below85","j":17,"y":38.3},{"g":"Below85","j":18,"y":37.7},{"g":"Below85","j":33,"y":39.1},{"g":"Below85","j":10,"y":36.1},{"g":"Below85","j":48,"y":36.8},{"g":"Below85","j":77,"y":38.4},{"g":"Below85","j":80,"y":39.0},{"g":"Below85","j":76,"y":36.1},
{"g":"Below85","j":71,"y":35.3},{"g":"Below85","j":36,"y":35.3},{"g":"Below85","j":15,"y":34.1},{"g":"Below85","j":15,"y":33.0},{"g":"Below85","j":40,"y":33.9},{"g":"Below85","j":44,"y":33.1},{"g":"Below85","j":57,"y":34.0},{"g":"Below85","j":57,"y":32.9},{"g":"Below85","j":63,"y":33.9},{"g":"Below85","j":73,"y":34.2},
{"g":"Below85","j":78,"y":33.1},{"g":"Below85","j":84,"y":33.0},{"g":"Below85","j":88,"y":33.3},{"g":"Below85","j":86,"y":32.3},{"g":"Below85","j":83,"y":30.7},{"g":"Below85","j":57,"y":31.9},{"g":"Below85","j":7,"y":30.8},{"g":"Below85","j":22,"y":30.3},{"g":"Below85","j":30,"y":30.8},{"g":"Below85","j":31,"y":30.3},
{"g":"Below85","j":44,"y":30.8},{"g":"Below85","j":51,"y":30.3},{"g":"Below85","j":53,"y":30.8},{"g":"Below85","j":57,"y":30.0},{"g":"Below85","j":65,"y":29.0},{"g":"Below85","j":10,"y":29.3},{"g":"Below85","j":13,"y":28.7},{"g":"Below85","j":19,"y":29.2},{"g":"Below85","j":32,"y":28.8},{"g":"Below85","j":38,"y":28.3},
{"g":"Below85","j":52,"y":28.1},{"g":"Below85","j":55,"y":28.0},{"g":"Below85","j":58,"y":27.4},{"g":"Below85","j":62,"y":27.2},{"g":"Below85","j":70,"y":27.7},{"g":"Below85","j":82,"y":28.0},{"g":"Below85","j":88,"y":28.1},{"g":"Below85","j":45,"y":27.1},{"g":"Below85","j":7,"y":26.1},{"g":"Below85","j":16,"y":26.1},
{"g":"Below85","j":23,"y":26.2},{"g":"Below85","j":68,"y":26.1},{"g":"Below85","j":74,"y":26.1},{"g":"Below85","j":90,"y":26.1},{"g":"Below85","j":6,"y":25.1},{"g":"Below85","j":11,"y":24.2},{"g":"Below85","j":17,"y":25.0},{"g":"Below85","j":28,"y":25.1},{"g":"Below85","j":41,"y":24.7},{"g":"Below85","j":41,"y":24.1},
{"g":"Below85","j":50,"y":24.2},{"g":"Below85","j":59,"y":23.9},{"g":"Below85","j":67,"y":24.1},{"g":"Below85","j":69,"y":24.9},{"g":"Below85","j":75,"y":24.5},{"g":"Below85","j":81,"y":24.7},{"g":"Below85","j":84,"y":24.5},{"g":"Below85","j":86,"y":24.8},{"g":"Below85","j":23,"y":23.2},{"g":"Below85","j":26,"y":23.2},
{"g":"Below85","j":81,"y":23.1},{"g":"Below85","j":16,"y":22.4},{"g":"Below85","j":24,"y":21.7},{"g":"Below85","j":9,"y":20.4},{"g":"Below85","j":17,"y":20.4},{"g":"Below85","j":11,"y":18.7},{"g":"Below85","j":32,"y":19.2},{"g":"Below85","j":38,"y":19.8},{"g":"Below85","j":51,"y":20.2},{"g":"Below85","j":62,"y":21.0},
{"g":"Below85","j":68,"y":20.8},{"g":"Below85","j":78,"y":21.3},{"g":"Below85","j":85,"y":20.2},{"g":"Below85","j":93,"y":19.1},{"g":"Below85","j":55,"y":18.2},{"g":"Below85","j":59,"y":18.3},{"g":"Below85","j":73,"y":18.9},{"g":"Below85","j":80,"y":19.1},{"g":"Below85","j":86,"y":18.5},{"g":"Below85","j":92,"y":17.8},
{"g":"Below85","j":25,"y":17.2},{"g":"Below85","j":32,"y":16.4},{"g":"Below85","j":40,"y":17.0},{"g":"Below85","j":52,"y":17.6},{"g":"Below85","j":58,"y":17.0},{"g":"Below85","j":62,"y":17.6},{"g":"Below85","j":70,"y":17.2},{"g":"Below85","j":76,"y":16.3},{"g":"Below85","j":17,"y":15.9},{"g":"Below85","j":9,"y":16.1},
{"g":"Below85","j":93,"y":17.0},{"g":"Below85","j":84,"y":16.2},{"g":"Below85","j":40,"y":15.2},{"g":"Below85","j":37,"y":13.4},{"g":"Below85","j":39,"y":12.0},{"g":"Below85","j":9,"y":12.4},{"g":"Below85","j":59,"y":12.4},{"g":"Below85","j":9,"y":11.0},{"g":"Below85","j":17,"y":9.8},{"g":"Below85","j":21,"y":9.5},
{"g":"Below85","j":32,"y":10.4},{"g":"Below85","j":37,"y":10.4},{"g":"Below85","j":46,"y":9.8},{"g":"Below85","j":56,"y":11.0},{"g":"Below85","j":58,"y":9.8},{"g":"Below85","j":68,"y":10.4},{"g":"Below85","j":73,"y":9.3},{"g":"Below85","j":77,"y":9.8},{"g":"Below85","j":82,"y":10.8},{"g":"Below85","j":84,"y":9.9},
{"g":"Below85","j":89,"y":11.3},{"g":"Below85","j":87,"y":14.2},{"g":"Below85","j":91,"y":13.1},{"g":"Below85","j":53,"y":15.2},{"g":"Below85","j":45,"y":4.5},{"g":"Below85","j":62,"y":4.4},{"g":"Below85","j":10,"y":2.8},{"g":"Below85","j":9,"y":1.1},{"g":"Below85","j":9,"y":0.3}
]
},
"hconcat":[
{"title":{"text":"A","anchor":"start","frame":"bounds","fontSize":19,"fontWeight":"bold","offset":-27},
"vconcat":[{"title":{"text":"OSpan","fontSize":23,"offset":8},"width":345,"height":840,
"resolve":{"scale":{"xOffset":"independent"}},
"layer":[
{"data":{"name":"bars"},"transform":[{"filter":"datum.p == 'OSpan'"}],"mark":{"type":"bar"},
"encoding":{"x":{"field":"g","type":"nominal","title":"Cutoff Group","scale":{"domain":["Above85","Below85"],"paddingInner":0.102,"paddingOuter":0.15}},
"y":{"field":"mean","type":"quantitative","title":"Span Score","scale":{"domain":[-3.9,84.1],"nice":false,"zero":false},"axis":{"values":[0,20,40,60,80]}},
"y2":{"datum":0},
"color":{"field":"g","type":"nominal","scale":{"domain":["Above85","Below85"],"range":["#d3d3d3","#666666"]},"legend":null}}},
{"data":{"name":"o_pts"},"mark":{"type":"circle","size":64,"color":"#4d4d4d","opacity":0.3},
"encoding":{"x":{"field":"g","type":"nominal","title":"Cutoff Group"},"xOffset":{"field":"j","type":"quantitative","scale":{"domain":[0,100]}},"y":{"field":"y","type":"quantitative","title":"Span Score"}}},
{"data":{"name":"bars"},"transform":[{"filter":"datum.p == 'OSpan'"}],"mark":{"type":"rule","color":"#000000","strokeWidth":2},
"encoding":{"x":{"field":"g","type":"nominal","title":"Cutoff Group"},"y":{"field":"lo","type":"quantitative","title":"Span Score"},"y2":{"field":"hi"}}},
{"data":{"name":"bars"},"transform":[{"filter":"datum.p == 'OSpan'"}],"mark":{"type":"tick","color":"#000000","size":39,"thickness":2},
"encoding":{"x":{"field":"g","type":"nominal","title":"Cutoff Group"},"y":{"field":"lo","type":"quantitative","title":"Span Score"}}},
{"data":{"name":"bars"},"transform":[{"filter":"datum.p == 'OSpan'"}],"mark":{"type":"tick","color":"#000000","size":39,"thickness":2},
"encoding":{"x":{"field":"g","type":"nominal","title":"Cutoff Group"},"y":{"field":"hi","type":"quantitative","title":"Span Score"}}},
{"data":{"name":"bars"},"transform":[{"filter":"datum.p == 'OSpan'"},{"calculate":"datum.mean - 25","as":"ly"}],"mark":{"type":"text","fontSize":20,"color":"#000000"},
"encoding":{"x":{"field":"g","type":"nominal","title":"Cutoff Group"},"y":{"field":"ly","type":"quantitative","title":"Span Score"},"text":{"field":"label"}}}
]}]},
{"title":{"text":"B","anchor":"start","frame":"bounds","fontSize":19,"fontWeight":"bold","offset":-27},
"vconcat":[{"title":{"text":"RSpan","fontSize":23,"offset":8},"width":345,"height":840,
"resolve":{"scale":{"xOffset":"independent"}},
"layer":[
{"data":{"name":"bars"},"transform":[{"filter":"datum.p == 'RSpan'"}],"mark":{"type":"bar"},
"encoding":{"x":{"field":"g","type":"nominal","title":"Cutoff Group","scale":{"domain":["Above85","Below85"],"paddingInner":0.102,"paddingOuter":0.15}},
"y":{"field":"mean","type":"quantitative","title":"Span Score","scale":{"domain":[-3.9,84.1],"nice":false,"zero":false},"axis":{"values":[0,20,40,60,80]}},
"y2":{"datum":0},
"color":{"field":"g","type":"nominal","scale":{"domain":["Above85","Below85"],"range":["#d3d3d3","#666666"]},"legend":null}}},
{"data":{"name":"r_pts"},"mark":{"type":"circle","size":64,"color":"#4d4d4d","opacity":0.3},
"encoding":{"x":{"field":"g","type":"nominal","title":"Cutoff Group"},"xOffset":{"field":"j","type":"quantitative","scale":{"domain":[0,100]}},"y":{"field":"y","type":"quantitative","title":"Span Score"}}},
{"data":{"name":"bars"},"transform":[{"filter":"datum.p == 'RSpan'"}],"mark":{"type":"rule","color":"#000000","strokeWidth":2},
"encoding":{"x":{"field":"g","type":"nominal","title":"Cutoff Group"},"y":{"field":"lo","type":"quantitative","title":"Span Score"},"y2":{"field":"hi"}}},
{"data":{"name":"bars"},"transform":[{"filter":"datum.p == 'RSpan'"}],"mark":{"type":"tick","color":"#000000","size":39,"thickness":2},
"encoding":{"x":{"field":"g","type":"nominal","title":"Cutoff Group"},"y":{"field":"lo","type":"quantitative","title":"Span Score"}}},
{"data":{"name":"bars"},"transform":[{"filter":"datum.p == 'RSpan'"}],"mark":{"type":"tick","color":"#000000","size":39,"thickness":2},
"encoding":{"x":{"field":"g","type":"nominal","title":"Cutoff Group"},"y":{"field":"hi","type":"quantitative","title":"Span Score"}}},
{"data":{"name":"bars"},"transform":[{"filter":"datum.p == 'RSpan'"},{"calculate":"datum.mean - 25","as":"ly"}],"mark":{"type":"text","fontSize":20,"color":"#000000"},
"encoding":{"x":{"field":"g","type":"nominal","title":"Cutoff Group"},"y":{"field":"ly","type":"quantitative","title":"Span Score"},"text":{"field":"label"}}}
]}]},
{"title":{"text":"C","anchor":"start","frame":"bounds","fontSize":19,"fontWeight":"bold","offset":-27},
"vconcat":[{"title":{"text":"SymSpan","fontSize":23,"offset":8},"width":345,"height":840,
"resolve":{"scale":{"xOffset":"independent"}},
"layer":[
{"data":{"name":"bars"},"transform":[{"filter":"datum.p == 'SymSpan'"}],"mark":{"type":"bar"},
"encoding":{"x":{"field":"g","type":"nominal","title":"Cutoff Group","scale":{"domain":["Above85","Below85"],"paddingInner":0.102,"paddingOuter":0.15}},
"y":{"field":"mean","type":"quantitative","title":"Span Score","scale":{"domain":[-3.9,84.1],"nice":false,"zero":false},"axis":{"values":[0,20,40,60,80]}},
"y2":{"datum":0},
"color":{"field":"g","type":"nominal","scale":{"domain":["Above85","Below85"],"range":["#d3d3d3","#666666"]},"legend":null}}},
{"data":{"name":"s_pts"},"mark":{"type":"circle","size":64,"color":"#4d4d4d","opacity":0.3},
"encoding":{"x":{"field":"g","type":"nominal","title":"Cutoff Group"},"xOffset":{"field":"j","type":"quantitative","scale":{"domain":[0,100]}},"y":{"field":"y","type":"quantitative","title":"Span Score"}}},
{"data":{"name":"bars"},"transform":[{"filter":"datum.p == 'SymSpan'"}],"mark":{"type":"rule","color":"#000000","strokeWidth":2},
"encoding":{"x":{"field":"g","type":"nominal","title":"Cutoff Group"},"y":{"field":"lo","type":"quantitative","title":"Span Score"},"y2":{"field":"hi"}}},
{"data":{"name":"bars"},"transform":[{"filter":"datum.p == 'SymSpan'"}],"mark":{"type":"tick","color":"#000000","size":39,"thickness":2},
"encoding":{"x":{"field":"g","type":"nominal","title":"Cutoff Group"},"y":{"field":"lo","type":"quantitative","title":"Span Score"}}},
{"data":{"name":"bars"},"transform":[{"filter":"datum.p == 'SymSpan'"}],"mark":{"type":"tick","color":"#000000","size":39,"thickness":2},
"encoding":{"x":{"field":"g","type":"nominal","title":"Cutoff Group"},"y":{"field":"hi","type":"quantitative","title":"Span Score"}}},
{"data":{"name":"bars"},"transform":[{"filter":"datum.p == 'SymSpan'"},{"calculate":"datum.mean - 15","as":"ly"}],"mark":{"type":"text","fontSize":20,"color":"#000000"},
"encoding":{"x":{"field":"g","type":"nominal","title":"Cutoff Group"},"y":{"field":"ly","type":"quantitative","title":"Span Score"},"text":{"field":"label"}}}
]}]}
]
}
